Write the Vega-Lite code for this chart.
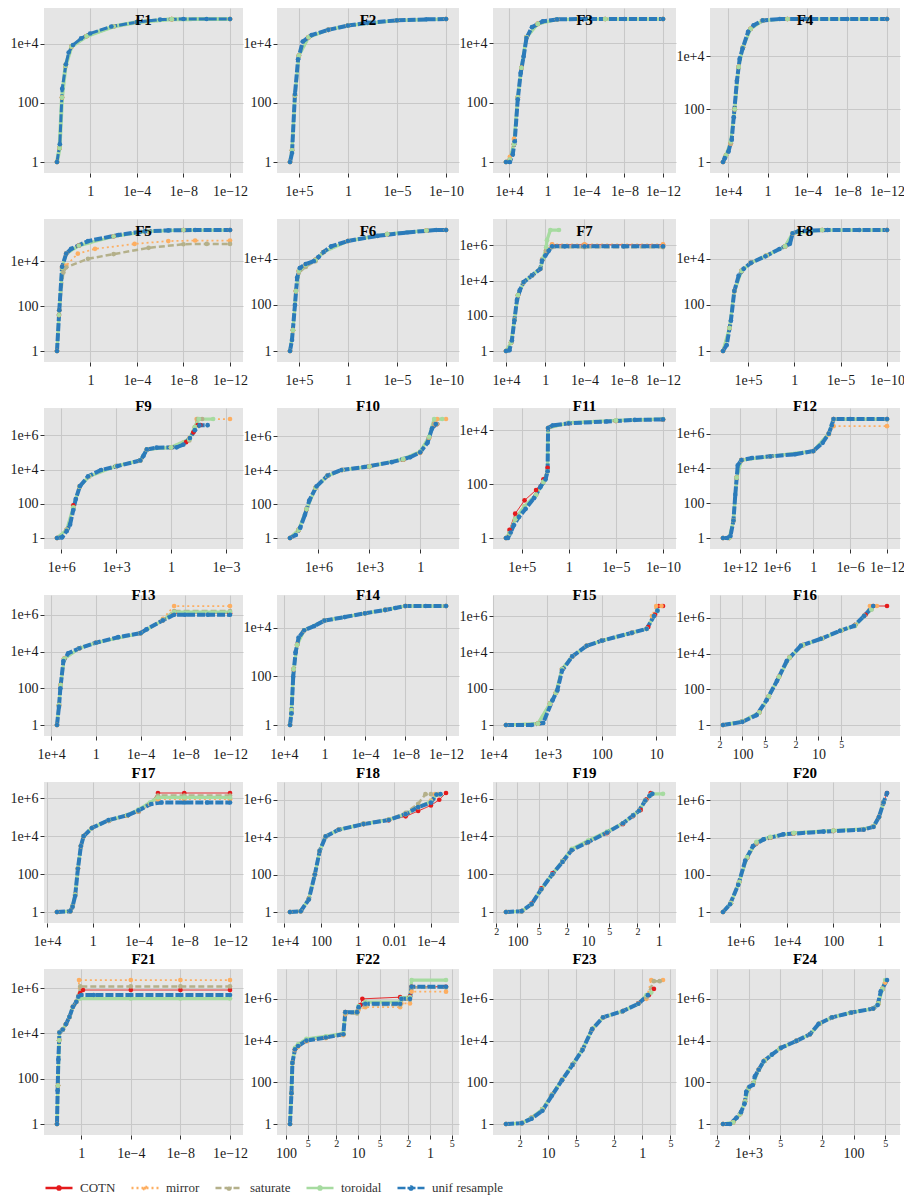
{
"$schema":"https://vega.github.io/schema/vega-lite/v6.json",
"background":"white",
"padding":{"left":9,"top":8,"right":0,"bottom":2},
"columns":4,
"spacing":{"row":46,"column":34},
"bounds":"flush",
"align":"each",
"resolve":{"scale":{"x":"independent","y":"independent"}},
"data":{"values":[
{"p":"F1","a":"C","x":700,"y":1},{"p":"F1","a":"C","x":420,"y":3},{"p":"F1","a":"C","x":260,"y":150},{"p":"F1","a":"C","x":130,"y":1800},{"p":"F1","a":"C","x":40,"y":8000},{"p":"F1","a":"C","x":2,"y":18000},{"p":"F1","a":"C","x":0.01,"y":38000},{"p":"F1","a":"C","x":1e-4,"y":53000},{"p":"F1","a":"C","x":1e-7,"y":67000},{"p":"F1","a":"C","x":1e-12,"y":68000},
{"p":"F1","a":"M","x":700,"y":1},{"p":"F1","a":"M","x":420,"y":3},{"p":"F1","a":"M","x":260,"y":150},{"p":"F1","a":"M","x":130,"y":1800},{"p":"F1","a":"M","x":40,"y":8000},{"p":"F1","a":"M","x":2,"y":18000},{"p":"F1","a":"M","x":0.01,"y":38000},{"p":"F1","a":"M","x":1e-4,"y":53000},{"p":"F1","a":"M","x":1e-7,"y":67000},{"p":"F1","a":"M","x":1e-12,"y":68000},
{"p":"F1","a":"S","x":700,"y":1},{"p":"F1","a":"S","x":420,"y":3},{"p":"F1","a":"S","x":260,"y":150},{"p":"F1","a":"S","x":130,"y":1800},{"p":"F1","a":"S","x":40,"y":8000},{"p":"F1","a":"S","x":2,"y":18000},{"p":"F1","a":"S","x":0.01,"y":38000},{"p":"F1","a":"S","x":1e-4,"y":53000},{"p":"F1","a":"S","x":1e-7,"y":67000},{"p":"F1","a":"S","x":1e-12,"y":68000},
{"p":"F1","a":"T","x":700,"y":1},{"p":"F1","a":"T","x":420,"y":3},{"p":"F1","a":"T","x":260,"y":150},{"p":"F1","a":"T","x":130,"y":1800},{"p":"F1","a":"T","x":40,"y":8000},{"p":"F1","a":"T","x":2,"y":18000},{"p":"F1","a":"T","x":0.01,"y":38000},{"p":"F1","a":"T","x":1e-4,"y":53000},{"p":"F1","a":"T","x":1e-7,"y":67000},{"p":"F1","a":"T","x":1e-12,"y":68000},
{"p":"F1","a":"U","x":700,"y":1},{"p":"F1","a":"U","x":400,"y":4},{"p":"F1","a":"U","x":250,"y":300},{"p":"F1","a":"U","x":120,"y":2000},{"p":"F1","a":"U","x":70,"y":5000},{"p":"F1","a":"U","x":30,"y":9000},{"p":"F1","a":"U","x":6,"y":15000},{"p":"F1","a":"U","x":1,"y":22000},{"p":"F1","a":"U","x":0.015,"y":38000},{"p":"F1","a":"U","x":1e-4,"y":53000},{"p":"F1","a":"U","x":1e-6,"y":65000},{"p":"F1","a":"U","x":1e-8,"y":68000},{"p":"F1","a":"U","x":1e-10,"y":68000},{"p":"F1","a":"U","x":1e-12,"y":68000},

{"p":"F2","a":"C","x":8e5,"y":1},{"p":"F2","a":"C","x":5e5,"y":2.5},{"p":"F2","a":"C","x":2.5e5,"y":180},{"p":"F2","a":"C","x":1e5,"y":4000},{"p":"F2","a":"C","x":1e4,"y":17000},{"p":"F2","a":"C","x":100,"y":30000},{"p":"F2","a":"C","x":1,"y":42000},{"p":"F2","a":"C","x":1e-5,"y":63000},{"p":"F2","a":"C","x":1e-10,"y":70000},
{"p":"F2","a":"M","x":8e5,"y":1},{"p":"F2","a":"M","x":5e5,"y":2.5},{"p":"F2","a":"M","x":2.5e5,"y":180},{"p":"F2","a":"M","x":1e5,"y":4000},{"p":"F2","a":"M","x":1e4,"y":17000},{"p":"F2","a":"M","x":100,"y":30000},{"p":"F2","a":"M","x":1,"y":42000},{"p":"F2","a":"M","x":1e-5,"y":63000},{"p":"F2","a":"M","x":1e-10,"y":70000},
{"p":"F2","a":"S","x":8e5,"y":1},{"p":"F2","a":"S","x":5e5,"y":2.5},{"p":"F2","a":"S","x":2.5e5,"y":180},{"p":"F2","a":"S","x":1e5,"y":4000},{"p":"F2","a":"S","x":1e4,"y":17000},{"p":"F2","a":"S","x":100,"y":30000},{"p":"F2","a":"S","x":1,"y":42000},{"p":"F2","a":"S","x":1e-5,"y":63000},{"p":"F2","a":"S","x":1e-10,"y":70000},
{"p":"F2","a":"T","x":8e5,"y":1},{"p":"F2","a":"T","x":5e5,"y":2.5},{"p":"F2","a":"T","x":2.5e5,"y":180},{"p":"F2","a":"T","x":1e5,"y":4000},{"p":"F2","a":"T","x":1e4,"y":17000},{"p":"F2","a":"T","x":100,"y":30000},{"p":"F2","a":"T","x":1,"y":42000},{"p":"F2","a":"T","x":1e-5,"y":63000},{"p":"F2","a":"T","x":1e-10,"y":70000},
{"p":"F2","a":"U","x":8e5,"y":1},{"p":"F2","a":"U","x":5e5,"y":2},{"p":"F2","a":"U","x":2.5e5,"y":200},{"p":"F2","a":"U","x":1.2e5,"y":3000},{"p":"F2","a":"U","x":4e4,"y":12000},{"p":"F2","a":"U","x":5e3,"y":20000},{"p":"F2","a":"U","x":100,"y":30000},{"p":"F2","a":"U","x":1,"y":42000},{"p":"F2","a":"U","x":0.01,"y":52000},{"p":"F2","a":"U","x":1e-5,"y":63000},{"p":"F2","a":"U","x":1e-8,"y":68000},{"p":"F2","a":"U","x":1e-10,"y":70000},

{"p":"F3","a":"C","x":2e4,"y":1},{"p":"F3","a":"C","x":8e3,"y":1.2},{"p":"F3","a":"C","x":3e3,"y":4},{"p":"F3","a":"C","x":1.2e3,"y":150},{"p":"F3","a":"C","x":500,"y":1500},{"p":"F3","a":"C","x":150,"y":16000},{"p":"F3","a":"C","x":10,"y":45000},{"p":"F3","a":"C","x":0.1,"y":64000},{"p":"F3","a":"C","x":1e-6,"y":66000},{"p":"F3","a":"C","x":1e-12,"y":66000},
{"p":"F3","a":"M","x":2e4,"y":1},{"p":"F3","a":"M","x":8e3,"y":1.5},{"p":"F3","a":"M","x":3e3,"y":6},{"p":"F3","a":"M","x":1.2e3,"y":150},{"p":"F3","a":"M","x":500,"y":1500},{"p":"F3","a":"M","x":150,"y":16000},{"p":"F3","a":"M","x":10,"y":45000},{"p":"F3","a":"M","x":0.1,"y":64000},{"p":"F3","a":"M","x":1e-6,"y":66000},{"p":"F3","a":"M","x":1e-12,"y":66000},
{"p":"F3","a":"S","x":2e4,"y":1},{"p":"F3","a":"S","x":8e3,"y":1.2},{"p":"F3","a":"S","x":3e3,"y":4},{"p":"F3","a":"S","x":1.2e3,"y":150},{"p":"F3","a":"S","x":500,"y":1500},{"p":"F3","a":"S","x":150,"y":16000},{"p":"F3","a":"S","x":10,"y":45000},{"p":"F3","a":"S","x":0.1,"y":64000},{"p":"F3","a":"S","x":1e-6,"y":66000},{"p":"F3","a":"S","x":1e-12,"y":66000},
{"p":"F3","a":"T","x":2e4,"y":1},{"p":"F3","a":"T","x":8e3,"y":1.2},{"p":"F3","a":"T","x":3e3,"y":4},{"p":"F3","a":"T","x":1.2e3,"y":150},{"p":"F3","a":"T","x":500,"y":1500},{"p":"F3","a":"T","x":150,"y":16000},{"p":"F3","a":"T","x":10,"y":45000},{"p":"F3","a":"T","x":0.1,"y":64000},{"p":"F3","a":"T","x":1e-6,"y":66000},{"p":"F3","a":"T","x":1e-12,"y":66000},
{"p":"F3","a":"U","x":2e4,"y":1},{"p":"F3","a":"U","x":8e3,"y":1},{"p":"F3","a":"U","x":4e3,"y":1.8},{"p":"F3","a":"U","x":2.5e3,"y":5},{"p":"F3","a":"U","x":1.2e3,"y":130},{"p":"F3","a":"U","x":600,"y":1000},{"p":"F3","a":"U","x":300,"y":3500},{"p":"F3","a":"U","x":150,"y":15000},{"p":"F3","a":"U","x":40,"y":35000},{"p":"F3","a":"U","x":3,"y":55000},{"p":"F3","a":"U","x":0.1,"y":64000},{"p":"F3","a":"U","x":1e-4,"y":66000},{"p":"F3","a":"U","x":1e-8,"y":66000},{"p":"F3","a":"U","x":1e-12,"y":66000},

{"p":"F4","a":"C","x":3e4,"y":1},{"p":"F4","a":"C","x":1.5e4,"y":1.8},{"p":"F4","a":"C","x":5e3,"y":5},{"p":"F4","a":"C","x":2e3,"y":100},{"p":"F4","a":"C","x":800,"y":4000},{"p":"F4","a":"C","x":300,"y":22000},{"p":"F4","a":"C","x":50,"y":110000},{"p":"F4","a":"C","x":3,"y":230000},{"p":"F4","a":"C","x":0.01,"y":260000},{"p":"F4","a":"C","x":1e-12,"y":260000},
{"p":"F4","a":"M","x":3e4,"y":1},{"p":"F4","a":"M","x":1.5e4,"y":1.8},{"p":"F4","a":"M","x":5e3,"y":5},{"p":"F4","a":"M","x":2e3,"y":100},{"p":"F4","a":"M","x":800,"y":4000},{"p":"F4","a":"M","x":300,"y":22000},{"p":"F4","a":"M","x":50,"y":110000},{"p":"F4","a":"M","x":3,"y":230000},{"p":"F4","a":"M","x":0.01,"y":260000},{"p":"F4","a":"M","x":1e-12,"y":260000},
{"p":"F4","a":"S","x":3e4,"y":1},{"p":"F4","a":"S","x":1.5e4,"y":1.8},{"p":"F4","a":"S","x":5e3,"y":5},{"p":"F4","a":"S","x":2e3,"y":100},{"p":"F4","a":"S","x":800,"y":4000},{"p":"F4","a":"S","x":300,"y":22000},{"p":"F4","a":"S","x":50,"y":110000},{"p":"F4","a":"S","x":3,"y":230000},{"p":"F4","a":"S","x":0.01,"y":260000},{"p":"F4","a":"S","x":1e-12,"y":260000},
{"p":"F4","a":"T","x":3e4,"y":1},{"p":"F4","a":"T","x":1.5e4,"y":1.8},{"p":"F4","a":"T","x":5e3,"y":6},{"p":"F4","a":"T","x":2e3,"y":100},{"p":"F4","a":"T","x":800,"y":4000},{"p":"F4","a":"T","x":300,"y":22000},{"p":"F4","a":"T","x":50,"y":110000},{"p":"F4","a":"T","x":3,"y":230000},{"p":"F4","a":"T","x":0.01,"y":260000},{"p":"F4","a":"T","x":1e-12,"y":260000},
{"p":"F4","a":"U","x":3e4,"y":1},{"p":"F4","a":"U","x":2e4,"y":1.4},{"p":"F4","a":"U","x":8.5e3,"y":2.5},{"p":"F4","a":"U","x":4e3,"y":7},{"p":"F4","a":"U","x":2.5e3,"y":50},{"p":"F4","a":"U","x":1.2e3,"y":1200},{"p":"F4","a":"U","x":630,"y":8000},{"p":"F4","a":"U","x":320,"y":20000},{"p":"F4","a":"U","x":90,"y":85000},{"p":"F4","a":"U","x":25,"y":150000},{"p":"F4","a":"U","x":3,"y":230000},{"p":"F4","a":"U","x":0.06,"y":260000},{"p":"F4","a":"U","x":1e-4,"y":260000},{"p":"F4","a":"U","x":1e-8,"y":260000},{"p":"F4","a":"U","x":1e-12,"y":260000},

{"p":"F5","a":"C","x":740,"y":1},{"p":"F5","a":"C","x":500,"y":40},{"p":"F5","a":"C","x":270,"y":5000},{"p":"F5","a":"C","x":120,"y":22000},{"p":"F5","a":"C","x":10,"y":50000},{"p":"F5","a":"C","x":0.01,"y":130000},{"p":"F5","a":"C","x":1e-5,"y":220000},{"p":"F5","a":"C","x":1e-8,"y":250000},{"p":"F5","a":"C","x":1e-12,"y":250000},
{"p":"F5","a":"M","x":740,"y":1},{"p":"F5","a":"M","x":470,"y":66},{"p":"F5","a":"M","x":270,"y":5700},{"p":"F5","a":"M","x":120,"y":6500},{"p":"F5","a":"M","x":12,"y":22000},{"p":"F5","a":"M","x":0.4,"y":36000},{"p":"F5","a":"M","x":1.6e-4,"y":60000},{"p":"F5","a":"M","x":2e-7,"y":80000},{"p":"F5","a":"M","x":1e-9,"y":85000},{"p":"F5","a":"M","x":1e-12,"y":85000},
{"p":"F5","a":"S","x":740,"y":1},{"p":"F5","a":"S","x":470,"y":66},{"p":"F5","a":"S","x":210,"y":3200},{"p":"F5","a":"S","x":120,"y":5400},{"p":"F5","a":"S","x":1.6,"y":13000},{"p":"F5","a":"S","x":0.01,"y":21000},{"p":"F5","a":"S","x":1e-5,"y":40000},{"p":"F5","a":"S","x":1e-8,"y":58000},{"p":"F5","a":"S","x":1e-10,"y":60000},{"p":"F5","a":"S","x":1e-12,"y":60000},
{"p":"F5","a":"T","x":740,"y":1},{"p":"F5","a":"T","x":500,"y":40},{"p":"F5","a":"T","x":270,"y":5000},{"p":"F5","a":"T","x":120,"y":22000},{"p":"F5","a":"T","x":10,"y":50000},{"p":"F5","a":"T","x":0.01,"y":130000},{"p":"F5","a":"T","x":1e-5,"y":220000},{"p":"F5","a":"T","x":1e-8,"y":250000},{"p":"F5","a":"T","x":1e-12,"y":250000},
{"p":"F5","a":"U","x":740,"y":1},{"p":"F5","a":"U","x":470,"y":66},{"p":"F5","a":"U","x":270,"y":5700},{"p":"F5","a":"U","x":120,"y":22000},{"p":"F5","a":"U","x":45,"y":36000},{"p":"F5","a":"U","x":1.6,"y":80000},{"p":"F5","a":"U","x":0.004,"y":150000},{"p":"F5","a":"U","x":2e-5,"y":220000},{"p":"F5","a":"U","x":2e-7,"y":240000},{"p":"F5","a":"U","x":1e-9,"y":250000},{"p":"F5","a":"U","x":1e-12,"y":250000},

{"p":"F6","a":"C","x":8e5,"y":1},{"p":"F6","a":"C","x":4e5,"y":8},{"p":"F6","a":"C","x":2e5,"y":400},{"p":"F6","a":"C","x":1e5,"y":3000},{"p":"F6","a":"C","x":2e4,"y":5500},{"p":"F6","a":"C","x":2e3,"y":9000},{"p":"F6","a":"C","x":300,"y":20000},{"p":"F6","a":"C","x":1,"y":60000},{"p":"F6","a":"C","x":1e-4,"y":120000},{"p":"F6","a":"C","x":1e-8,"y":170000},{"p":"F6","a":"C","x":1e-10,"y":180000},
{"p":"F6","a":"M","x":8e5,"y":1},{"p":"F6","a":"M","x":4e5,"y":8},{"p":"F6","a":"M","x":2e5,"y":400},{"p":"F6","a":"M","x":1e5,"y":3000},{"p":"F6","a":"M","x":2e4,"y":5500},{"p":"F6","a":"M","x":2e3,"y":9000},{"p":"F6","a":"M","x":300,"y":20000},{"p":"F6","a":"M","x":1,"y":60000},{"p":"F6","a":"M","x":1e-4,"y":120000},{"p":"F6","a":"M","x":1e-8,"y":170000},{"p":"F6","a":"M","x":1e-10,"y":180000},
{"p":"F6","a":"S","x":8e5,"y":1},{"p":"F6","a":"S","x":4e5,"y":8},{"p":"F6","a":"S","x":2e5,"y":400},{"p":"F6","a":"S","x":1e5,"y":2500},{"p":"F6","a":"S","x":2e4,"y":4500},{"p":"F6","a":"S","x":2e3,"y":8000},{"p":"F6","a":"S","x":300,"y":20000},{"p":"F6","a":"S","x":1,"y":60000},{"p":"F6","a":"S","x":1e-4,"y":120000},{"p":"F6","a":"S","x":1e-8,"y":170000},{"p":"F6","a":"S","x":1e-10,"y":180000},
{"p":"F6","a":"T","x":8e5,"y":1},{"p":"F6","a":"T","x":4e5,"y":8},{"p":"F6","a":"T","x":2e5,"y":400},{"p":"F6","a":"T","x":1e5,"y":3000},{"p":"F6","a":"T","x":2e4,"y":5500},{"p":"F6","a":"T","x":2e3,"y":9000},{"p":"F6","a":"T","x":300,"y":20000},{"p":"F6","a":"T","x":1,"y":60000},{"p":"F6","a":"T","x":1e-4,"y":120000},{"p":"F6","a":"T","x":1e-8,"y":170000},{"p":"F6","a":"T","x":1e-10,"y":180000},
{"p":"F6","a":"U","x":8e5,"y":1},{"p":"F6","a":"U","x":5e5,"y":3},{"p":"F6","a":"U","x":2.5e5,"y":100},{"p":"F6","a":"U","x":1.5e5,"y":1500},{"p":"F6","a":"U","x":8e4,"y":4000},{"p":"F6","a":"U","x":2e4,"y":6000},{"p":"F6","a":"U","x":3e3,"y":8000},{"p":"F6","a":"U","x":1e3,"y":12000},{"p":"F6","a":"U","x":300,"y":20000},{"p":"F6","a":"U","x":50,"y":35000},{"p":"F6","a":"U","x":1,"y":60000},{"p":"F6","a":"U","x":1e-3,"y":100000},{"p":"F6","a":"U","x":1e-6,"y":140000},{"p":"F6","a":"U","x":1e-9,"y":180000},{"p":"F6","a":"U","x":1e-10,"y":180000},

{"p":"F7","a":"C","x":1e4,"y":1},{"p":"F7","a":"C","x":3e3,"y":3},{"p":"F7","a":"C","x":1.4e3,"y":60},{"p":"F7","a":"C","x":600,"y":1500},{"p":"F7","a":"C","x":160,"y":8000},{"p":"F7","a":"C","x":22,"y":20000},{"p":"F7","a":"C","x":3.2,"y":47000},{"p":"F7","a":"C","x":2,"y":160000},{"p":"F7","a":"C","x":0.8,"y":500000},{"p":"F7","a":"C","x":0.2,"y":1100000},{"p":"F7","a":"C","x":1e-4,"y":1100000},{"p":"F7","a":"C","x":1e-12,"y":1100000},
{"p":"F7","a":"M","x":1e4,"y":1},{"p":"F7","a":"M","x":3e3,"y":3},{"p":"F7","a":"M","x":1.4e3,"y":60},{"p":"F7","a":"M","x":600,"y":1500},{"p":"F7","a":"M","x":160,"y":8000},{"p":"F7","a":"M","x":22,"y":20000},{"p":"F7","a":"M","x":3.2,"y":47000},{"p":"F7","a":"M","x":2,"y":160000},{"p":"F7","a":"M","x":0.8,"y":500000},{"p":"F7","a":"M","x":0.2,"y":1150000},{"p":"F7","a":"M","x":1e-4,"y":1150000},{"p":"F7","a":"M","x":1e-12,"y":1150000},
{"p":"F7","a":"S","x":1e4,"y":1},{"p":"F7","a":"S","x":3e3,"y":3},{"p":"F7","a":"S","x":1.4e3,"y":60},{"p":"F7","a":"S","x":600,"y":1500},{"p":"F7","a":"S","x":160,"y":8000},{"p":"F7","a":"S","x":22,"y":20000},{"p":"F7","a":"S","x":3.2,"y":47000},{"p":"F7","a":"S","x":2,"y":160000},{"p":"F7","a":"S","x":0.8,"y":500000},{"p":"F7","a":"S","x":0.2,"y":800000},{"p":"F7","a":"S","x":1e-4,"y":800000},{"p":"F7","a":"S","x":1e-12,"y":800000},
{"p":"F7","a":"T","x":1e4,"y":1},{"p":"F7","a":"T","x":3e3,"y":3},{"p":"F7","a":"T","x":1.4e3,"y":60},{"p":"F7","a":"T","x":600,"y":1500},{"p":"F7","a":"T","x":160,"y":8000},{"p":"F7","a":"T","x":22,"y":20000},{"p":"F7","a":"T","x":3.2,"y":50000},{"p":"F7","a":"T","x":1.5,"y":200000},{"p":"F7","a":"T","x":0.8,"y":800000},{"p":"F7","a":"T","x":0.67,"y":2000000},{"p":"F7","a":"T","x":0.3,"y":7600000},{"p":"F7","a":"T","x":0.04,"y":7600000},
{"p":"F7","a":"U","x":1e4,"y":1},{"p":"F7","a":"U","x":4.5e3,"y":1.1},{"p":"F7","a":"U","x":2.5e3,"y":4},{"p":"F7","a":"U","x":1.4e3,"y":56},{"p":"F7","a":"U","x":760,"y":800},{"p":"F7","a":"U","x":400,"y":2800},{"p":"F7","a":"U","x":160,"y":8300},{"p":"F7","a":"U","x":22,"y":20000},{"p":"F7","a":"U","x":3.2,"y":47000},{"p":"F7","a":"U","x":2.1,"y":140000},{"p":"F7","a":"U","x":1,"y":260000},{"p":"F7","a":"U","x":0.45,"y":500000},{"p":"F7","a":"U","x":0.2,"y":900000},{"p":"F7","a":"U","x":0.01,"y":900000},{"p":"F7","a":"U","x":1e-4,"y":900000},{"p":"F7","a":"U","x":1e-8,"y":900000},{"p":"F7","a":"U","x":1e-12,"y":900000},

{"p":"F8","a":"C","x":5e7,"y":1},{"p":"F8","a":"C","x":1e7,"y":10},{"p":"F8","a":"C","x":3e6,"y":400},{"p":"F8","a":"C","x":5e5,"y":3000},{"p":"F8","a":"C","x":5e4,"y":6700},{"p":"F8","a":"C","x":1e3,"y":14000},{"p":"F8","a":"C","x":10,"y":35000},{"p":"F8","a":"C","x":1.5,"y":130000},{"p":"F8","a":"C","x":1e-3,"y":180000},{"p":"F8","a":"C","x":1e-10,"y":180000},
{"p":"F8","a":"M","x":5e7,"y":1},{"p":"F8","a":"M","x":1e7,"y":10},{"p":"F8","a":"M","x":3e6,"y":400},{"p":"F8","a":"M","x":5e5,"y":3000},{"p":"F8","a":"M","x":5e4,"y":6700},{"p":"F8","a":"M","x":1e3,"y":14000},{"p":"F8","a":"M","x":10,"y":35000},{"p":"F8","a":"M","x":1.5,"y":130000},{"p":"F8","a":"M","x":1e-3,"y":180000},{"p":"F8","a":"M","x":1e-10,"y":180000},
{"p":"F8","a":"S","x":5e7,"y":1},{"p":"F8","a":"S","x":1e7,"y":10},{"p":"F8","a":"S","x":3e6,"y":400},{"p":"F8","a":"S","x":5e5,"y":3000},{"p":"F8","a":"S","x":5e4,"y":6700},{"p":"F8","a":"S","x":1e3,"y":14000},{"p":"F8","a":"S","x":10,"y":35000},{"p":"F8","a":"S","x":1.5,"y":130000},{"p":"F8","a":"S","x":1e-3,"y":180000},{"p":"F8","a":"S","x":1e-10,"y":180000},
{"p":"F8","a":"T","x":5e7,"y":1},{"p":"F8","a":"T","x":1e7,"y":10},{"p":"F8","a":"T","x":3e6,"y":400},{"p":"F8","a":"T","x":5e5,"y":3000},{"p":"F8","a":"T","x":5e4,"y":6700},{"p":"F8","a":"T","x":1e3,"y":14000},{"p":"F8","a":"T","x":10,"y":35000},{"p":"F8","a":"T","x":1.5,"y":130000},{"p":"F8","a":"T","x":1e-3,"y":180000},{"p":"F8","a":"T","x":1e-10,"y":180000},
{"p":"F8","a":"U","x":5e7,"y":1},{"p":"F8","a":"U","x":2e7,"y":1.8},{"p":"F8","a":"U","x":7e6,"y":21},{"p":"F8","a":"U","x":3e6,"y":400},{"p":"F8","a":"U","x":1e6,"y":1900},{"p":"F8","a":"U","x":3e5,"y":3700},{"p":"F8","a":"U","x":5e4,"y":6700},{"p":"F8","a":"U","x":1.3e3,"y":13000},{"p":"F8","a":"U","x":40,"y":27000},{"p":"F8","a":"U","x":3,"y":45000},{"p":"F8","a":"U","x":1.5,"y":130000},{"p":"F8","a":"U","x":0.35,"y":160000},{"p":"F8","a":"U","x":2.5e-4,"y":180000},{"p":"F8","a":"U","x":1e-7,"y":180000},{"p":"F8","a":"U","x":1e-10,"y":180000},

{"p":"F9","a":"C","x":1.7e6,"y":1},{"p":"F9","a":"C","x":5e5,"y":3},{"p":"F9","a":"C","x":2.2e5,"y":80},{"p":"F9","a":"C","x":1e5,"y":1000},{"p":"F9","a":"C","x":3e4,"y":4000},{"p":"F9","a":"C","x":1e3,"y":16000},{"p":"F9","a":"C","x":48,"y":34000},{"p":"F9","a":"C","x":21,"y":150000},{"p":"F9","a":"C","x":1,"y":200000},{"p":"F9","a":"C","x":0.15,"y":400000},{"p":"F9","a":"C","x":0.06,"y":1500000},{"p":"F9","a":"C","x":0.035,"y":4000000},{"p":"F9","a":"C","x":0.025,"y":4000000},
{"p":"F9","a":"M","x":1.7e6,"y":1},{"p":"F9","a":"M","x":5e5,"y":3},{"p":"F9","a":"M","x":2.2e5,"y":60},{"p":"F9","a":"M","x":1e5,"y":1000},{"p":"F9","a":"M","x":3e4,"y":4000},{"p":"F9","a":"M","x":1e3,"y":16000},{"p":"F9","a":"M","x":48,"y":34000},{"p":"F9","a":"M","x":21,"y":150000},{"p":"F9","a":"M","x":1,"y":200000},{"p":"F9","a":"M","x":0.1,"y":700000},{"p":"F9","a":"M","x":0.05,"y":3000000},{"p":"F9","a":"M","x":0.04,"y":9000000},{"p":"F9","a":"M","x":6e-4,"y":9000000},
{"p":"F9","a":"S","x":1.7e6,"y":1},{"p":"F9","a":"S","x":5e5,"y":3},{"p":"F9","a":"S","x":2.2e5,"y":60},{"p":"F9","a":"S","x":1e5,"y":1000},{"p":"F9","a":"S","x":3e4,"y":4000},{"p":"F9","a":"S","x":1e3,"y":16000},{"p":"F9","a":"S","x":48,"y":34000},{"p":"F9","a":"S","x":21,"y":150000},{"p":"F9","a":"S","x":1,"y":190000},{"p":"F9","a":"S","x":0.1,"y":500000},{"p":"F9","a":"S","x":0.05,"y":3000000},{"p":"F9","a":"S","x":0.035,"y":9000000},{"p":"F9","a":"S","x":0.02,"y":9000000},
{"p":"F9","a":"T","x":1.7e6,"y":1},{"p":"F9","a":"T","x":5e5,"y":3},{"p":"F9","a":"T","x":2.2e5,"y":60},{"p":"F9","a":"T","x":1e5,"y":1000},{"p":"F9","a":"T","x":3e4,"y":4000},{"p":"F9","a":"T","x":1e3,"y":16000},{"p":"F9","a":"T","x":48,"y":34000},{"p":"F9","a":"T","x":21,"y":150000},{"p":"F9","a":"T","x":1,"y":200000},{"p":"F9","a":"T","x":0.1,"y":600000},{"p":"F9","a":"T","x":0.05,"y":3000000},{"p":"F9","a":"T","x":0.03,"y":9000000},{"p":"F9","a":"T","x":0.005,"y":9000000},
{"p":"F9","a":"U","x":1.7e6,"y":1},{"p":"F9","a":"U","x":9e5,"y":1.1},{"p":"F9","a":"U","x":5e5,"y":2.6},{"p":"F9","a":"U","x":3.3e5,"y":6},{"p":"F9","a":"U","x":2.2e5,"y":43},{"p":"F9","a":"U","x":1.6e5,"y":190},{"p":"F9","a":"U","x":9.5e4,"y":1070},{"p":"F9","a":"U","x":3.4e4,"y":4000},{"p":"F9","a":"U","x":6.6e3,"y":9400},{"p":"F9","a":"U","x":850,"y":16000},{"p":"F9","a":"U","x":48,"y":34000},{"p":"F9","a":"U","x":32,"y":64000},{"p":"F9","a":"U","x":21,"y":150000},{"p":"F9","a":"U","x":6.2,"y":190000},{"p":"F9","a":"U","x":0.5,"y":200000},{"p":"F9","a":"U","x":0.21,"y":290000},{"p":"F9","a":"U","x":0.093,"y":690000},{"p":"F9","a":"U","x":0.05,"y":2000000},{"p":"F9","a":"U","x":0.028,"y":3900000},{"p":"F9","a":"U","x":0.01,"y":3900000},

{"p":"F10","a":"C","x":4.8e7,"y":1},{"p":"F10","a":"C","x":1.5e7,"y":3},{"p":"F10","a":"C","x":5e6,"y":50},{"p":"F10","a":"C","x":1.5e6,"y":900},{"p":"F10","a":"C","x":3e5,"y":4500},{"p":"F10","a":"C","x":4e4,"y":10000},{"p":"F10","a":"C","x":1e3,"y":16000},{"p":"F10","a":"C","x":10,"y":40000},{"p":"F10","a":"C","x":1,"y":110000},{"p":"F10","a":"C","x":0.3,"y":800000},{"p":"F10","a":"C","x":0.15,"y":5000000},{"p":"F10","a":"C","x":0.1,"y":5000000},
{"p":"F10","a":"M","x":4.8e7,"y":1},{"p":"F10","a":"M","x":1.5e7,"y":3},{"p":"F10","a":"M","x":5e6,"y":50},{"p":"F10","a":"M","x":1.5e6,"y":900},{"p":"F10","a":"M","x":3e5,"y":4500},{"p":"F10","a":"M","x":4e4,"y":10000},{"p":"F10","a":"M","x":1e3,"y":16000},{"p":"F10","a":"M","x":10,"y":40000},{"p":"F10","a":"M","x":1,"y":100000},{"p":"F10","a":"M","x":0.3,"y":800000},{"p":"F10","a":"M","x":0.15,"y":5000000},{"p":"F10","a":"M","x":0.1,"y":10000000},{"p":"F10","a":"M","x":0.03,"y":10000000},
{"p":"F10","a":"S","x":4.8e7,"y":1},{"p":"F10","a":"S","x":1.5e7,"y":3},{"p":"F10","a":"S","x":5e6,"y":50},{"p":"F10","a":"S","x":1.5e6,"y":900},{"p":"F10","a":"S","x":3e5,"y":4500},{"p":"F10","a":"S","x":4e4,"y":10000},{"p":"F10","a":"S","x":1e3,"y":16000},{"p":"F10","a":"S","x":10,"y":40000},{"p":"F10","a":"S","x":1,"y":110000},{"p":"F10","a":"S","x":0.3,"y":800000},{"p":"F10","a":"S","x":0.15,"y":5000000},{"p":"F10","a":"S","x":0.1,"y":5000000},
{"p":"F10","a":"T","x":4.8e7,"y":1},{"p":"F10","a":"T","x":1.5e7,"y":3},{"p":"F10","a":"T","x":5e6,"y":50},{"p":"F10","a":"T","x":1.5e6,"y":900},{"p":"F10","a":"T","x":3e5,"y":4500},{"p":"F10","a":"T","x":4e4,"y":10000},{"p":"F10","a":"T","x":1e3,"y":16000},{"p":"F10","a":"T","x":10,"y":45000},{"p":"F10","a":"T","x":1,"y":120000},{"p":"F10","a":"T","x":0.3,"y":900000},{"p":"F10","a":"T","x":0.15,"y":10000000},{"p":"F10","a":"T","x":0.05,"y":10000000},
{"p":"F10","a":"U","x":4.8e7,"y":1},{"p":"F10","a":"U","x":2.2e7,"y":1.5},{"p":"F10","a":"U","x":1.2e7,"y":4},{"p":"F10","a":"U","x":6.3e6,"y":23},{"p":"F10","a":"U","x":3.5e6,"y":160},{"p":"F10","a":"U","x":1.3e6,"y":1100},{"p":"F10","a":"U","x":2.9e5,"y":4700},{"p":"F10","a":"U","x":4.5e4,"y":10000},{"p":"F10","a":"U","x":2e3,"y":15000},{"p":"F10","a":"U","x":48,"y":29000},{"p":"F10","a":"U","x":4,"y":56000},{"p":"F10","a":"U","x":1,"y":110000},{"p":"F10","a":"U","x":0.37,"y":400000},{"p":"F10","a":"U","x":0.2,"y":2800000},{"p":"F10","a":"U","x":0.12,"y":5000000},

{"p":"F11","a":"C","x":4.7e6,"y":1},{"p":"F11","a":"C","x":2e6,"y":2},{"p":"F11","a":"C","x":5e5,"y":8},{"p":"F11","a":"C","x":5e4,"y":25},{"p":"F11","a":"C","x":3e3,"y":60},{"p":"F11","a":"C","x":500,"y":150},{"p":"F11","a":"C","x":180,"y":400},{"p":"F11","a":"C","x":160,"y":12000},{"p":"F11","a":"C","x":1,"y":18000},{"p":"F11","a":"C","x":1e-5,"y":22000},{"p":"F11","a":"C","x":1e-10,"y":25000},
{"p":"F11","a":"M","x":4.7e6,"y":1},{"p":"F11","a":"M","x":2e6,"y":1.5},{"p":"F11","a":"M","x":5e5,"y":5},{"p":"F11","a":"M","x":5e4,"y":15},{"p":"F11","a":"M","x":3e3,"y":40},{"p":"F11","a":"M","x":500,"y":120},{"p":"F11","a":"M","x":180,"y":300},{"p":"F11","a":"M","x":160,"y":12000},{"p":"F11","a":"M","x":1,"y":18000},{"p":"F11","a":"M","x":1e-5,"y":22000},{"p":"F11","a":"M","x":1e-10,"y":25000},
{"p":"F11","a":"S","x":4.7e6,"y":1},{"p":"F11","a":"S","x":2e6,"y":1.5},{"p":"F11","a":"S","x":5e5,"y":5},{"p":"F11","a":"S","x":5e4,"y":15},{"p":"F11","a":"S","x":3e3,"y":40},{"p":"F11","a":"S","x":500,"y":120},{"p":"F11","a":"S","x":180,"y":300},{"p":"F11","a":"S","x":160,"y":12000},{"p":"F11","a":"S","x":1,"y":18000},{"p":"F11","a":"S","x":1e-5,"y":22000},{"p":"F11","a":"S","x":1e-10,"y":25000},
{"p":"F11","a":"T","x":4.7e6,"y":1},{"p":"F11","a":"T","x":2e6,"y":1.5},{"p":"F11","a":"T","x":5e5,"y":5},{"p":"F11","a":"T","x":5e4,"y":15},{"p":"F11","a":"T","x":3e3,"y":40},{"p":"F11","a":"T","x":500,"y":120},{"p":"F11","a":"T","x":180,"y":300},{"p":"F11","a":"T","x":160,"y":12000},{"p":"F11","a":"T","x":1,"y":19000},{"p":"F11","a":"T","x":1e-5,"y":23000},{"p":"F11","a":"T","x":1e-10,"y":26000},
{"p":"F11","a":"U","x":4.7e6,"y":1},{"p":"F11","a":"U","x":3e6,"y":1},{"p":"F11","a":"U","x":1.5e6,"y":1.6},{"p":"F11","a":"U","x":7e5,"y":3},{"p":"F11","a":"U","x":2e5,"y":6},{"p":"F11","a":"U","x":4e4,"y":12},{"p":"F11","a":"U","x":5e3,"y":30},{"p":"F11","a":"U","x":1e3,"y":80},{"p":"F11","a":"U","x":300,"y":150},{"p":"F11","a":"U","x":180,"y":300},{"p":"F11","a":"U","x":160,"y":12000},{"p":"F11","a":"U","x":50,"y":15000},{"p":"F11","a":"U","x":1,"y":18000},{"p":"F11","a":"U","x":1e-4,"y":21000},{"p":"F11","a":"U","x":1e-7,"y":24000},{"p":"F11","a":"U","x":1e-10,"y":25000},

{"p":"F12","a":"C","x":5e14,"y":1},{"p":"F12","a":"C","x":5e13,"y":1},{"p":"F12","a":"C","x":1e13,"y":10},{"p":"F12","a":"C","x":3e12,"y":3000},{"p":"F12","a":"C","x":5e11,"y":30000},{"p":"F12","a":"C","x":1e7,"y":50000},{"p":"F12","a":"C","x":1,"y":100000},{"p":"F12","a":"C","x":3e-3,"y":1000000},{"p":"F12","a":"C","x":5e-4,"y":7000000},{"p":"F12","a":"C","x":1e-12,"y":7000000},
{"p":"F12","a":"M","x":5e14,"y":1},{"p":"F12","a":"M","x":5e13,"y":1},{"p":"F12","a":"M","x":1e13,"y":10},{"p":"F12","a":"M","x":3e12,"y":3000},{"p":"F12","a":"M","x":5e11,"y":30000},{"p":"F12","a":"M","x":1e7,"y":50000},{"p":"F12","a":"M","x":1,"y":100000},{"p":"F12","a":"M","x":3e-3,"y":900000},{"p":"F12","a":"M","x":5e-4,"y":2700000},{"p":"F12","a":"M","x":1e-12,"y":2700000},
{"p":"F12","a":"S","x":5e14,"y":1},{"p":"F12","a":"S","x":5e13,"y":1},{"p":"F12","a":"S","x":1e13,"y":10},{"p":"F12","a":"S","x":3e12,"y":3000},{"p":"F12","a":"S","x":5e11,"y":30000},{"p":"F12","a":"S","x":1e7,"y":50000},{"p":"F12","a":"S","x":1,"y":100000},{"p":"F12","a":"S","x":3e-3,"y":1000000},{"p":"F12","a":"S","x":5e-4,"y":6500000},{"p":"F12","a":"S","x":1e-12,"y":6500000},
{"p":"F12","a":"T","x":5e14,"y":1},{"p":"F12","a":"T","x":5e13,"y":1},{"p":"F12","a":"T","x":1e13,"y":10},{"p":"F12","a":"T","x":3e12,"y":3000},{"p":"F12","a":"T","x":5e11,"y":30000},{"p":"F12","a":"T","x":1e7,"y":50000},{"p":"F12","a":"T","x":1,"y":100000},{"p":"F12","a":"T","x":3e-3,"y":1000000},{"p":"F12","a":"T","x":5e-4,"y":7000000},{"p":"F12","a":"T","x":1e-12,"y":7000000},
{"p":"F12","a":"U","x":5e14,"y":1},{"p":"F12","a":"U","x":1e14,"y":1},{"p":"F12","a":"U","x":3e13,"y":1.3},{"p":"F12","a":"U","x":1e13,"y":10},{"p":"F12","a":"U","x":5e12,"y":300},{"p":"F12","a":"U","x":2e12,"y":15000},{"p":"F12","a":"U","x":5e11,"y":30000},{"p":"F12","a":"U","x":1e10,"y":40000},{"p":"F12","a":"U","x":1e7,"y":50000},{"p":"F12","a":"U","x":1e3,"y":65000},{"p":"F12","a":"U","x":1,"y":100000},{"p":"F12","a":"U","x":0.03,"y":300000},{"p":"F12","a":"U","x":3e-3,"y":1000000},{"p":"F12","a":"U","x":1e-3,"y":3000000},{"p":"F12","a":"U","x":5e-4,"y":7000000},{"p":"F12","a":"U","x":1e-6,"y":7000000},{"p":"F12","a":"U","x":1e-12,"y":7000000},

{"p":"F13","a":"C","x":3e3,"y":1},{"p":"F13","a":"C","x":2e3,"y":12},{"p":"F13","a":"C","x":1.4e3,"y":150},{"p":"F13","a":"C","x":700,"y":4000},{"p":"F13","a":"C","x":30,"y":15000},{"p":"F13","a":"C","x":1,"y":30000},{"p":"F13","a":"C","x":1e-4,"y":100000},{"p":"F13","a":"C","x":1e-6,"y":500000},{"p":"F13","a":"C","x":1e-7,"y":1200000},{"p":"F13","a":"C","x":1e-12,"y":1200000},
{"p":"F13","a":"M","x":3e3,"y":1},{"p":"F13","a":"M","x":2e3,"y":12},{"p":"F13","a":"M","x":1.4e3,"y":150},{"p":"F13","a":"M","x":700,"y":4000},{"p":"F13","a":"M","x":30,"y":15000},{"p":"F13","a":"M","x":1,"y":30000},{"p":"F13","a":"M","x":1e-4,"y":100000},{"p":"F13","a":"M","x":1e-6,"y":600000},{"p":"F13","a":"M","x":1e-7,"y":3000000},{"p":"F13","a":"M","x":1e-12,"y":3000000},
{"p":"F13","a":"S","x":3e3,"y":1},{"p":"F13","a":"S","x":2e3,"y":12},{"p":"F13","a":"S","x":1.4e3,"y":150},{"p":"F13","a":"S","x":700,"y":4000},{"p":"F13","a":"S","x":30,"y":15000},{"p":"F13","a":"S","x":1,"y":30000},{"p":"F13","a":"S","x":1e-4,"y":100000},{"p":"F13","a":"S","x":1e-6,"y":550000},{"p":"F13","a":"S","x":1e-7,"y":1600000},{"p":"F13","a":"S","x":1e-12,"y":1600000},
{"p":"F13","a":"T","x":3e3,"y":1},{"p":"F13","a":"T","x":2e3,"y":12},{"p":"F13","a":"T","x":1.4e3,"y":150},{"p":"F13","a":"T","x":700,"y":4000},{"p":"F13","a":"T","x":30,"y":15000},{"p":"F13","a":"T","x":1,"y":30000},{"p":"F13","a":"T","x":1e-4,"y":100000},{"p":"F13","a":"T","x":1e-6,"y":500000},{"p":"F13","a":"T","x":1e-7,"y":1400000},{"p":"F13","a":"T","x":1e-12,"y":1400000},
{"p":"F13","a":"U","x":3e3,"y":1},{"p":"F13","a":"U","x":2e3,"y":10},{"p":"F13","a":"U","x":1.5e3,"y":100},{"p":"F13","a":"U","x":800,"y":3000},{"p":"F13","a":"U","x":300,"y":8000},{"p":"F13","a":"U","x":30,"y":15000},{"p":"F13","a":"U","x":1,"y":30000},{"p":"F13","a":"U","x":0.01,"y":60000},{"p":"F13","a":"U","x":1e-4,"y":100000},{"p":"F13","a":"U","x":3e-5,"y":160000},{"p":"F13","a":"U","x":1e-6,"y":500000},{"p":"F13","a":"U","x":1e-7,"y":1000000},{"p":"F13","a":"U","x":1e-8,"y":1000000},{"p":"F13","a":"U","x":1e-10,"y":1000000},{"p":"F13","a":"U","x":1e-12,"y":1000000},

{"p":"F14","a":"C","x":2.5e3,"y":1},{"p":"F14","a":"C","x":1.8e3,"y":4},{"p":"F14","a":"C","x":1.1e3,"y":200},{"p":"F14","a":"C","x":500,"y":2000},{"p":"F14","a":"C","x":100,"y":8000},{"p":"F14","a":"C","x":1,"y":20000},{"p":"F14","a":"C","x":1e-4,"y":40000},{"p":"F14","a":"C","x":1e-6,"y":55000},{"p":"F14","a":"C","x":1e-8,"y":80000},{"p":"F14","a":"C","x":1e-12,"y":80000},
{"p":"F14","a":"M","x":2.5e3,"y":1},{"p":"F14","a":"M","x":1.8e3,"y":4},{"p":"F14","a":"M","x":1.1e3,"y":200},{"p":"F14","a":"M","x":500,"y":2000},{"p":"F14","a":"M","x":100,"y":8000},{"p":"F14","a":"M","x":1,"y":20000},{"p":"F14","a":"M","x":1e-4,"y":40000},{"p":"F14","a":"M","x":1e-6,"y":55000},{"p":"F14","a":"M","x":1e-8,"y":80000},{"p":"F14","a":"M","x":1e-12,"y":80000},
{"p":"F14","a":"S","x":2.5e3,"y":1},{"p":"F14","a":"S","x":1.8e3,"y":4},{"p":"F14","a":"S","x":1.1e3,"y":200},{"p":"F14","a":"S","x":500,"y":2000},{"p":"F14","a":"S","x":100,"y":8000},{"p":"F14","a":"S","x":1,"y":20000},{"p":"F14","a":"S","x":1e-4,"y":40000},{"p":"F14","a":"S","x":1e-6,"y":55000},{"p":"F14","a":"S","x":1e-8,"y":80000},{"p":"F14","a":"S","x":1e-12,"y":80000},
{"p":"F14","a":"T","x":2.5e3,"y":1},{"p":"F14","a":"T","x":1.8e3,"y":4},{"p":"F14","a":"T","x":1.1e3,"y":200},{"p":"F14","a":"T","x":500,"y":2000},{"p":"F14","a":"T","x":100,"y":8000},{"p":"F14","a":"T","x":1,"y":20000},{"p":"F14","a":"T","x":1e-4,"y":40000},{"p":"F14","a":"T","x":1e-6,"y":55000},{"p":"F14","a":"T","x":1e-8,"y":80000},{"p":"F14","a":"T","x":1e-12,"y":80000},
{"p":"F14","a":"U","x":2.5e3,"y":1},{"p":"F14","a":"U","x":1.8e3,"y":3},{"p":"F14","a":"U","x":1.2e3,"y":100},{"p":"F14","a":"U","x":700,"y":1000},{"p":"F14","a":"U","x":350,"y":4000},{"p":"F14","a":"U","x":100,"y":8000},{"p":"F14","a":"U","x":10,"y":12000},{"p":"F14","a":"U","x":1,"y":20000},{"p":"F14","a":"U","x":0.01,"y":28000},{"p":"F14","a":"U","x":1e-4,"y":40000},{"p":"F14","a":"U","x":1e-6,"y":55000},{"p":"F14","a":"U","x":1e-7,"y":66000},{"p":"F14","a":"U","x":1e-8,"y":80000},{"p":"F14","a":"U","x":1e-10,"y":80000},{"p":"F14","a":"U","x":1e-12,"y":80000},

{"p":"F15","a":"C","x":5.8e3,"y":1},{"p":"F15","a":"C","x":1.5e3,"y":1.2},{"p":"F15","a":"C","x":900,"y":15},{"p":"F15","a":"C","x":700,"y":60},{"p":"F15","a":"C","x":540,"y":1200},{"p":"F15","a":"C","x":350,"y":6000},{"p":"F15","a":"C","x":190,"y":23000},{"p":"F15","a":"C","x":100,"y":44000},{"p":"F15","a":"C","x":28,"y":120000},{"p":"F15","a":"C","x":14,"y":250000},{"p":"F15","a":"C","x":10.5,"y":1200000},{"p":"F15","a":"C","x":9,"y":3600000},{"p":"F15","a":"C","x":7.5,"y":3600000},
{"p":"F15","a":"M","x":5.8e3,"y":1},{"p":"F15","a":"M","x":1.5e3,"y":1.2},{"p":"F15","a":"M","x":900,"y":15},{"p":"F15","a":"M","x":700,"y":60},{"p":"F15","a":"M","x":540,"y":1200},{"p":"F15","a":"M","x":350,"y":6000},{"p":"F15","a":"M","x":190,"y":23000},{"p":"F15","a":"M","x":100,"y":44000},{"p":"F15","a":"M","x":28,"y":120000},{"p":"F15","a":"M","x":15,"y":200000},{"p":"F15","a":"M","x":12,"y":1000000},{"p":"F15","a":"M","x":10,"y":3600000},{"p":"F15","a":"M","x":8,"y":3600000},
{"p":"F15","a":"S","x":5.8e3,"y":1},{"p":"F15","a":"S","x":1.5e3,"y":1.2},{"p":"F15","a":"S","x":900,"y":15},{"p":"F15","a":"S","x":700,"y":60},{"p":"F15","a":"S","x":540,"y":1200},{"p":"F15","a":"S","x":350,"y":6000},{"p":"F15","a":"S","x":190,"y":23000},{"p":"F15","a":"S","x":100,"y":44000},{"p":"F15","a":"S","x":28,"y":120000},{"p":"F15","a":"S","x":15,"y":200000},{"p":"F15","a":"S","x":11,"y":1000000},{"p":"F15","a":"S","x":9.5,"y":2000000},
{"p":"F15","a":"T","x":5.8e3,"y":1},{"p":"F15","a":"T","x":1.5e3,"y":1.2},{"p":"F15","a":"T","x":900,"y":15},{"p":"F15","a":"T","x":700,"y":60},{"p":"F15","a":"T","x":540,"y":1200},{"p":"F15","a":"T","x":350,"y":6000},{"p":"F15","a":"T","x":190,"y":23000},{"p":"F15","a":"T","x":100,"y":44000},{"p":"F15","a":"T","x":28,"y":120000},{"p":"F15","a":"T","x":15,"y":200000},{"p":"F15","a":"T","x":11,"y":1000000},{"p":"F15","a":"T","x":9.5,"y":2000000},
{"p":"F15","a":"U","x":5.8e3,"y":1},{"p":"F15","a":"U","x":2e3,"y":1},{"p":"F15","a":"U","x":1.2e3,"y":1.3},{"p":"F15","a":"U","x":810,"y":23},{"p":"F15","a":"U","x":660,"y":80},{"p":"F15","a":"U","x":540,"y":1000},{"p":"F15","a":"U","x":350,"y":6000},{"p":"F15","a":"U","x":190,"y":23000},{"p":"F15","a":"U","x":100,"y":44000},{"p":"F15","a":"U","x":28,"y":120000},{"p":"F15","a":"U","x":15,"y":200000},{"p":"F15","a":"U","x":11,"y":1000000},{"p":"F15","a":"U","x":9.5,"y":2000000},

{"p":"F16","a":"C","x":180,"y":1},{"p":"F16","a":"C","x":100,"y":1.6},{"p":"F16","a":"C","x":60,"y":5},{"p":"F16","a":"C","x":45,"y":40},{"p":"F16","a":"C","x":33,"y":500},{"p":"F16","a":"C","x":24,"y":6000},{"p":"F16","a":"C","x":16,"y":30000},{"p":"F16","a":"C","x":9,"y":70000},{"p":"F16","a":"C","x":5,"y":200000},{"p":"F16","a":"C","x":3.3,"y":400000},{"p":"F16","a":"C","x":2.4,"y":1500000},{"p":"F16","a":"C","x":1.9,"y":4700000},{"p":"F16","a":"C","x":1.25,"y":4700000},
{"p":"F16","a":"M","x":180,"y":1},{"p":"F16","a":"M","x":100,"y":1.6},{"p":"F16","a":"M","x":60,"y":5},{"p":"F16","a":"M","x":45,"y":40},{"p":"F16","a":"M","x":33,"y":500},{"p":"F16","a":"M","x":24,"y":6000},{"p":"F16","a":"M","x":16,"y":30000},{"p":"F16","a":"M","x":9,"y":70000},{"p":"F16","a":"M","x":5,"y":200000},{"p":"F16","a":"M","x":3.3,"y":400000},{"p":"F16","a":"M","x":2.5,"y":1300000},{"p":"F16","a":"M","x":2.1,"y":4700000},{"p":"F16","a":"M","x":1.7,"y":4700000},
{"p":"F16","a":"S","x":180,"y":1},{"p":"F16","a":"S","x":100,"y":1.6},{"p":"F16","a":"S","x":60,"y":5},{"p":"F16","a":"S","x":45,"y":40},{"p":"F16","a":"S","x":33,"y":500},{"p":"F16","a":"S","x":24,"y":6000},{"p":"F16","a":"S","x":16,"y":30000},{"p":"F16","a":"S","x":9,"y":70000},{"p":"F16","a":"S","x":5,"y":200000},{"p":"F16","a":"S","x":3.3,"y":360000},{"p":"F16","a":"S","x":2.5,"y":1300000},{"p":"F16","a":"S","x":2,"y":3000000},
{"p":"F16","a":"T","x":180,"y":1},{"p":"F16","a":"T","x":100,"y":1.6},{"p":"F16","a":"T","x":60,"y":5},{"p":"F16","a":"T","x":45,"y":40},{"p":"F16","a":"T","x":33,"y":500},{"p":"F16","a":"T","x":24,"y":6000},{"p":"F16","a":"T","x":16,"y":30000},{"p":"F16","a":"T","x":9,"y":70000},{"p":"F16","a":"T","x":5,"y":200000},{"p":"F16","a":"T","x":3.3,"y":360000},{"p":"F16","a":"T","x":2.5,"y":1300000},{"p":"F16","a":"T","x":2,"y":3000000},
{"p":"F16","a":"U","x":180,"y":1},{"p":"F16","a":"U","x":100,"y":1.5},{"p":"F16","a":"U","x":65,"y":3.6},{"p":"F16","a":"U","x":48,"y":25},{"p":"F16","a":"U","x":35,"y":300},{"p":"F16","a":"U","x":26,"y":4000},{"p":"F16","a":"U","x":17,"y":28000},{"p":"F16","a":"U","x":9.3,"y":68000},{"p":"F16","a":"U","x":5.2,"y":190000},{"p":"F16","a":"U","x":3.4,"y":360000},{"p":"F16","a":"U","x":2.5,"y":1300000},{"p":"F16","a":"U","x":1.9,"y":4700000},

{"p":"F17","a":"C","x":1350,"y":1},{"p":"F17","a":"C","x":93,"y":1.1},{"p":"F17","a":"C","x":59,"y":2},{"p":"F17","a":"C","x":35,"y":8},{"p":"F17","a":"C","x":20,"y":200},{"p":"F17","a":"C","x":11,"y":3000},{"p":"F17","a":"C","x":6.3,"y":10000},{"p":"F17","a":"C","x":1.2,"y":27000},{"p":"F17","a":"C","x":0.04,"y":65000},{"p":"F17","a":"C","x":1e-3,"y":120000},{"p":"F17","a":"C","x":1e-4,"y":200000},{"p":"F17","a":"C","x":1e-5,"y":500000},{"p":"F17","a":"C","x":2e-6,"y":1900000},{"p":"F17","a":"C","x":1e-8,"y":1900000},{"p":"F17","a":"C","x":1e-12,"y":1900000},
{"p":"F17","a":"M","x":1350,"y":1},{"p":"F17","a":"M","x":93,"y":1.1},{"p":"F17","a":"M","x":59,"y":2},{"p":"F17","a":"M","x":35,"y":8},{"p":"F17","a":"M","x":20,"y":200},{"p":"F17","a":"M","x":11,"y":3000},{"p":"F17","a":"M","x":6.3,"y":10000},{"p":"F17","a":"M","x":1.2,"y":27000},{"p":"F17","a":"M","x":0.04,"y":65000},{"p":"F17","a":"M","x":1e-3,"y":120000},{"p":"F17","a":"M","x":1e-4,"y":200000},{"p":"F17","a":"M","x":1e-5,"y":500000},{"p":"F17","a":"M","x":2e-6,"y":900000},{"p":"F17","a":"M","x":1e-8,"y":900000},{"p":"F17","a":"M","x":1e-12,"y":900000},
{"p":"F17","a":"S","x":1350,"y":1},{"p":"F17","a":"S","x":93,"y":1.1},{"p":"F17","a":"S","x":59,"y":2},{"p":"F17","a":"S","x":35,"y":8},{"p":"F17","a":"S","x":20,"y":200},{"p":"F17","a":"S","x":11,"y":3000},{"p":"F17","a":"S","x":6.3,"y":10000},{"p":"F17","a":"S","x":1.2,"y":27000},{"p":"F17","a":"S","x":0.04,"y":65000},{"p":"F17","a":"S","x":1e-3,"y":120000},{"p":"F17","a":"S","x":1e-4,"y":200000},{"p":"F17","a":"S","x":1e-5,"y":500000},{"p":"F17","a":"S","x":2e-6,"y":1400000},{"p":"F17","a":"S","x":1e-8,"y":1400000},{"p":"F17","a":"S","x":1e-12,"y":1400000},
{"p":"F17","a":"T","x":1350,"y":1},{"p":"F17","a":"T","x":93,"y":1.1},{"p":"F17","a":"T","x":59,"y":2},{"p":"F17","a":"T","x":35,"y":8},{"p":"F17","a":"T","x":20,"y":200},{"p":"F17","a":"T","x":11,"y":3000},{"p":"F17","a":"T","x":6.3,"y":10000},{"p":"F17","a":"T","x":1.2,"y":27000},{"p":"F17","a":"T","x":0.04,"y":70000},{"p":"F17","a":"T","x":1e-3,"y":130000},{"p":"F17","a":"T","x":1e-4,"y":250000},{"p":"F17","a":"T","x":1e-5,"y":600000},{"p":"F17","a":"T","x":2e-6,"y":1100000},{"p":"F17","a":"T","x":1e-8,"y":1100000},{"p":"F17","a":"T","x":1e-12,"y":1100000},
{"p":"F17","a":"U","x":1350,"y":1},{"p":"F17","a":"U","x":93,"y":1.1},{"p":"F17","a":"U","x":59,"y":1.9},{"p":"F17","a":"U","x":35,"y":7},{"p":"F17","a":"U","x":20,"y":190},{"p":"F17","a":"U","x":11,"y":3000},{"p":"F17","a":"U","x":6.3,"y":10000},{"p":"F17","a":"U","x":1.2,"y":27000},{"p":"F17","a":"U","x":0.043,"y":70000},{"p":"F17","a":"U","x":8e-4,"y":130000},{"p":"F17","a":"U","x":1e-4,"y":230000},{"p":"F17","a":"U","x":8e-6,"y":500000},{"p":"F17","a":"U","x":1e-6,"y":600000},{"p":"F17","a":"U","x":1e-8,"y":600000},{"p":"F17","a":"U","x":1e-10,"y":600000},{"p":"F17","a":"U","x":1e-12,"y":600000},

{"p":"F18","a":"C","x":5e3,"y":1},{"p":"F18","a":"C","x":1.3e3,"y":1.1},{"p":"F18","a":"C","x":470,"y":5},{"p":"F18","a":"C","x":220,"y":100},{"p":"F18","a":"C","x":120,"y":1800},{"p":"F18","a":"C","x":56,"y":11000},{"p":"F18","a":"C","x":11,"y":25000},{"p":"F18","a":"C","x":0.48,"y":50000},{"p":"F18","a":"C","x":0.02,"y":80000},{"p":"F18","a":"C","x":2.4e-3,"y":130000},{"p":"F18","a":"C","x":5e-4,"y":250000},{"p":"F18","a":"C","x":1e-4,"y":500000},{"p":"F18","a":"C","x":3.5e-5,"y":1000000},{"p":"F18","a":"C","x":1.5e-5,"y":2300000},
{"p":"F18","a":"M","x":5e3,"y":1},{"p":"F18","a":"M","x":1.3e3,"y":1.1},{"p":"F18","a":"M","x":470,"y":5},{"p":"F18","a":"M","x":220,"y":100},{"p":"F18","a":"M","x":120,"y":1800},{"p":"F18","a":"M","x":56,"y":11000},{"p":"F18","a":"M","x":11,"y":25000},{"p":"F18","a":"M","x":0.48,"y":50000},{"p":"F18","a":"M","x":0.02,"y":85000},{"p":"F18","a":"M","x":2.4e-3,"y":170000},{"p":"F18","a":"M","x":5e-4,"y":400000},{"p":"F18","a":"M","x":1e-4,"y":900000},{"p":"F18","a":"M","x":6e-5,"y":2000000},{"p":"F18","a":"M","x":4e-5,"y":2000000},
{"p":"F18","a":"S","x":5e3,"y":1},{"p":"F18","a":"S","x":1.3e3,"y":1.1},{"p":"F18","a":"S","x":470,"y":5},{"p":"F18","a":"S","x":220,"y":100},{"p":"F18","a":"S","x":120,"y":1800},{"p":"F18","a":"S","x":56,"y":11000},{"p":"F18","a":"S","x":11,"y":25000},{"p":"F18","a":"S","x":0.48,"y":55000},{"p":"F18","a":"S","x":0.02,"y":90000},{"p":"F18","a":"S","x":2.4e-3,"y":200000},{"p":"F18","a":"S","x":5e-4,"y":600000},{"p":"F18","a":"S","x":2e-4,"y":2000000},{"p":"F18","a":"S","x":1e-4,"y":2000000},
{"p":"F18","a":"T","x":5e3,"y":1},{"p":"F18","a":"T","x":1.3e3,"y":1.1},{"p":"F18","a":"T","x":470,"y":5},{"p":"F18","a":"T","x":220,"y":100},{"p":"F18","a":"T","x":120,"y":1800},{"p":"F18","a":"T","x":56,"y":11000},{"p":"F18","a":"T","x":11,"y":25000},{"p":"F18","a":"T","x":0.48,"y":50000},{"p":"F18","a":"T","x":0.02,"y":85000},{"p":"F18","a":"T","x":2.4e-3,"y":170000},{"p":"F18","a":"T","x":5e-4,"y":400000},{"p":"F18","a":"T","x":1e-4,"y":800000},{"p":"F18","a":"T","x":5e-5,"y":1900000},{"p":"F18","a":"T","x":3e-5,"y":1900000},
{"p":"F18","a":"U","x":5e3,"y":1},{"p":"F18","a":"U","x":1.3e3,"y":1.1},{"p":"F18","a":"U","x":470,"y":4.7},{"p":"F18","a":"U","x":220,"y":100},{"p":"F18","a":"U","x":120,"y":1800},{"p":"F18","a":"U","x":56,"y":11000},{"p":"F18","a":"U","x":11,"y":25000},{"p":"F18","a":"U","x":0.48,"y":50000},{"p":"F18","a":"U","x":0.02,"y":83000},{"p":"F18","a":"U","x":2.4e-3,"y":170000},{"p":"F18","a":"U","x":5e-4,"y":400000},{"p":"F18","a":"U","x":1e-4,"y":700000},{"p":"F18","a":"U","x":5e-5,"y":1900000},{"p":"F18","a":"U","x":3e-5,"y":2000000},

{"p":"F19","a":"C","x":145,"y":1},{"p":"F19","a":"C","x":87,"y":1.1},{"p":"F19","a":"C","x":63,"y":2.8},{"p":"F19","a":"C","x":46,"y":18},{"p":"F19","a":"C","x":32,"y":110},{"p":"F19","a":"C","x":23,"y":500},{"p":"F19","a":"C","x":17,"y":2000},{"p":"F19","a":"C","x":10,"y":5000},{"p":"F19","a":"C","x":5.4,"y":15000},{"p":"F19","a":"C","x":3.2,"y":45000},{"p":"F19","a":"C","x":2.3,"y":120000},{"p":"F19","a":"C","x":1.8,"y":250000},{"p":"F19","a":"C","x":1.5,"y":900000},{"p":"F19","a":"C","x":1.3,"y":2000000},
{"p":"F19","a":"M","x":145,"y":1},{"p":"F19","a":"M","x":87,"y":1.1},{"p":"F19","a":"M","x":63,"y":2.6},{"p":"F19","a":"M","x":46,"y":16},{"p":"F19","a":"M","x":32,"y":100},{"p":"F19","a":"M","x":23,"y":450},{"p":"F19","a":"M","x":17,"y":1900},{"p":"F19","a":"M","x":10,"y":5000},{"p":"F19","a":"M","x":5.4,"y":16000},{"p":"F19","a":"M","x":3.2,"y":50000},{"p":"F19","a":"M","x":2.3,"y":130000},{"p":"F19","a":"M","x":1.9,"y":230000},{"p":"F19","a":"M","x":1.55,"y":800000},{"p":"F19","a":"M","x":1.3,"y":1600000},
{"p":"F19","a":"S","x":145,"y":1},{"p":"F19","a":"S","x":87,"y":1.1},{"p":"F19","a":"S","x":63,"y":2.6},{"p":"F19","a":"S","x":46,"y":16},{"p":"F19","a":"S","x":32,"y":100},{"p":"F19","a":"S","x":23,"y":450},{"p":"F19","a":"S","x":17,"y":1900},{"p":"F19","a":"S","x":10,"y":5000},{"p":"F19","a":"S","x":5.4,"y":16000},{"p":"F19","a":"S","x":3.2,"y":50000},{"p":"F19","a":"S","x":2.3,"y":130000},{"p":"F19","a":"S","x":1.9,"y":230000},{"p":"F19","a":"S","x":1.55,"y":800000},{"p":"F19","a":"S","x":1.3,"y":1600000},
{"p":"F19","a":"T","x":145,"y":1},{"p":"F19","a":"T","x":87,"y":1.1},{"p":"F19","a":"T","x":63,"y":2.6},{"p":"F19","a":"T","x":46,"y":16},{"p":"F19","a":"T","x":32,"y":100},{"p":"F19","a":"T","x":23,"y":500},{"p":"F19","a":"T","x":17,"y":2200},{"p":"F19","a":"T","x":10,"y":6000},{"p":"F19","a":"T","x":5.4,"y":18000},{"p":"F19","a":"T","x":3.2,"y":50000},{"p":"F19","a":"T","x":2.3,"y":130000},{"p":"F19","a":"T","x":1.9,"y":230000},{"p":"F19","a":"T","x":1.55,"y":800000},{"p":"F19","a":"T","x":1.23,"y":1800000},{"p":"F19","a":"T","x":0.87,"y":1800000},
{"p":"F19","a":"U","x":145,"y":1},{"p":"F19","a":"U","x":87,"y":1.1},{"p":"F19","a":"U","x":63,"y":2.6},{"p":"F19","a":"U","x":46,"y":16},{"p":"F19","a":"U","x":32,"y":100},{"p":"F19","a":"U","x":23,"y":450},{"p":"F19","a":"U","x":17,"y":1900},{"p":"F19","a":"U","x":10,"y":5000},{"p":"F19","a":"U","x":5.4,"y":16000},{"p":"F19","a":"U","x":3.2,"y":50000},{"p":"F19","a":"U","x":2.3,"y":130000},{"p":"F19","a":"U","x":1.9,"y":230000},{"p":"F19","a":"U","x":1.55,"y":800000},{"p":"F19","a":"U","x":1.35,"y":1400000},{"p":"F19","a":"U","x":1.23,"y":1800000},

{"p":"F20","a":"C","x":5.4e6,"y":1},{"p":"F20","a":"C","x":2.5e6,"y":3},{"p":"F20","a":"C","x":1.1e6,"y":40},{"p":"F20","a":"C","x":5e5,"y":800},{"p":"F20","a":"C","x":2e5,"y":5000},{"p":"F20","a":"C","x":5e4,"y":10000},{"p":"F20","a":"C","x":5e3,"y":17000},{"p":"F20","a":"C","x":100,"y":23000},{"p":"F20","a":"C","x":5,"y":28000},{"p":"F20","a":"C","x":1.9,"y":40000},{"p":"F20","a":"C","x":1.1,"y":130000},{"p":"F20","a":"C","x":0.7,"y":780000},{"p":"F20","a":"C","x":0.5,"y":2500000},
{"p":"F20","a":"M","x":5.4e6,"y":1},{"p":"F20","a":"M","x":2.5e6,"y":3},{"p":"F20","a":"M","x":1.1e6,"y":40},{"p":"F20","a":"M","x":5e5,"y":800},{"p":"F20","a":"M","x":2e5,"y":5000},{"p":"F20","a":"M","x":5e4,"y":10000},{"p":"F20","a":"M","x":5e3,"y":17000},{"p":"F20","a":"M","x":100,"y":23000},{"p":"F20","a":"M","x":5,"y":28000},{"p":"F20","a":"M","x":1.9,"y":40000},{"p":"F20","a":"M","x":1.1,"y":130000},{"p":"F20","a":"M","x":0.7,"y":780000},
{"p":"F20","a":"S","x":5.4e6,"y":1},{"p":"F20","a":"S","x":2.5e6,"y":3},{"p":"F20","a":"S","x":1.1e6,"y":40},{"p":"F20","a":"S","x":5e5,"y":800},{"p":"F20","a":"S","x":2e5,"y":5000},{"p":"F20","a":"S","x":5e4,"y":10000},{"p":"F20","a":"S","x":5e3,"y":17000},{"p":"F20","a":"S","x":100,"y":23000},{"p":"F20","a":"S","x":5,"y":28000},{"p":"F20","a":"S","x":1.9,"y":40000},{"p":"F20","a":"S","x":1.1,"y":130000},{"p":"F20","a":"S","x":0.7,"y":780000},
{"p":"F20","a":"T","x":5.4e6,"y":1},{"p":"F20","a":"T","x":2.5e6,"y":3},{"p":"F20","a":"T","x":1.1e6,"y":40},{"p":"F20","a":"T","x":5e5,"y":900},{"p":"F20","a":"T","x":2e5,"y":6000},{"p":"F20","a":"T","x":5e4,"y":11000},{"p":"F20","a":"T","x":5e3,"y":18000},{"p":"F20","a":"T","x":100,"y":24000},{"p":"F20","a":"T","x":5,"y":29000},{"p":"F20","a":"T","x":1.9,"y":40000},{"p":"F20","a":"T","x":1.1,"y":130000},{"p":"F20","a":"T","x":0.7,"y":780000},
{"p":"F20","a":"U","x":5.4e6,"y":1},{"p":"F20","a":"U","x":2.7e6,"y":2.6},{"p":"F20","a":"U","x":1.2e6,"y":29},{"p":"F20","a":"U","x":6e5,"y":580},{"p":"F20","a":"U","x":2.8e5,"y":3500},{"p":"F20","a":"U","x":1e5,"y":8000},{"p":"F20","a":"U","x":1.4e4,"y":15000},{"p":"F20","a":"U","x":260,"y":21000},{"p":"F20","a":"U","x":5,"y":27000},{"p":"F20","a":"U","x":1.9,"y":38000},{"p":"F20","a":"U","x":1.1,"y":130000},{"p":"F20","a":"U","x":0.7,"y":780000},{"p":"F20","a":"U","x":0.5,"y":2500000},

{"p":"F21","a":"C","x":90,"y":1},{"p":"F21","a":"C","x":75,"y":50},{"p":"F21","a":"C","x":60,"y":5000},{"p":"F21","a":"C","x":57,"y":11000},{"p":"F21","a":"C","x":31,"y":15000},{"p":"F21","a":"C","x":17,"y":26000},{"p":"F21","a":"C","x":9,"y":53000},{"p":"F21","a":"C","x":4.7,"y":150000},{"p":"F21","a":"C","x":2.5,"y":250000},{"p":"F21","a":"C","x":1.7,"y":420000},{"p":"F21","a":"C","x":1.2,"y":600000},{"p":"F21","a":"C","x":0.72,"y":830000},{"p":"F21","a":"C","x":1e-4,"y":830000},{"p":"F21","a":"C","x":1e-8,"y":830000},{"p":"F21","a":"C","x":1e-12,"y":830000},
{"p":"F21","a":"M","x":90,"y":1},{"p":"F21","a":"M","x":75,"y":50},{"p":"F21","a":"M","x":60,"y":5000},{"p":"F21","a":"M","x":57,"y":11000},{"p":"F21","a":"M","x":31,"y":15000},{"p":"F21","a":"M","x":17,"y":26000},{"p":"F21","a":"M","x":9,"y":53000},{"p":"F21","a":"M","x":4.7,"y":150000},{"p":"F21","a":"M","x":2.5,"y":250000},{"p":"F21","a":"M","x":1.7,"y":420000},{"p":"F21","a":"M","x":1.5,"y":2300000},{"p":"F21","a":"M","x":1e-4,"y":2300000},{"p":"F21","a":"M","x":1e-8,"y":2300000},{"p":"F21","a":"M","x":1e-12,"y":2300000},
{"p":"F21","a":"S","x":90,"y":1},{"p":"F21","a":"S","x":75,"y":50},{"p":"F21","a":"S","x":60,"y":5000},{"p":"F21","a":"S","x":57,"y":11000},{"p":"F21","a":"S","x":31,"y":15000},{"p":"F21","a":"S","x":17,"y":26000},{"p":"F21","a":"S","x":9,"y":53000},{"p":"F21","a":"S","x":4.7,"y":150000},{"p":"F21","a":"S","x":2.5,"y":250000},{"p":"F21","a":"S","x":1.7,"y":420000},{"p":"F21","a":"S","x":1.2,"y":1200000},{"p":"F21","a":"S","x":1e-4,"y":1200000},{"p":"F21","a":"S","x":1e-8,"y":1200000},{"p":"F21","a":"S","x":1e-12,"y":1200000},
{"p":"F21","a":"T","x":90,"y":1},{"p":"F21","a":"T","x":75,"y":50},{"p":"F21","a":"T","x":60,"y":5000},{"p":"F21","a":"T","x":57,"y":11000},{"p":"F21","a":"T","x":31,"y":15000},{"p":"F21","a":"T","x":17,"y":26000},{"p":"F21","a":"T","x":9,"y":53000},{"p":"F21","a":"T","x":4.7,"y":150000},{"p":"F21","a":"T","x":2.5,"y":250000},{"p":"F21","a":"T","x":1.7,"y":350000},{"p":"F21","a":"T","x":1.2,"y":350000},{"p":"F21","a":"T","x":1e-4,"y":350000},{"p":"F21","a":"T","x":1e-8,"y":350000},{"p":"F21","a":"T","x":1e-12,"y":350000},
{"p":"F21","a":"U","x":90,"y":1},{"p":"F21","a":"U","x":80,"y":30},{"p":"F21","a":"U","x":70,"y":700},{"p":"F21","a":"U","x":57,"y":11000},{"p":"F21","a":"U","x":31,"y":15000},{"p":"F21","a":"U","x":17,"y":26000},{"p":"F21","a":"U","x":9,"y":53000},{"p":"F21","a":"U","x":4.7,"y":150000},{"p":"F21","a":"U","x":2.5,"y":250000},{"p":"F21","a":"U","x":1.7,"y":420000},{"p":"F21","a":"U","x":1,"y":500000},{"p":"F21","a":"U","x":0.1,"y":500000},{"p":"F21","a":"U","x":1e-4,"y":500000},{"p":"F21","a":"U","x":1e-8,"y":500000},{"p":"F21","a":"U","x":1e-12,"y":500000},

{"p":"F22","a":"C","x":88,"y":1},{"p":"F22","a":"C","x":84,"y":30},{"p":"F22","a":"C","x":81.5,"y":850},{"p":"F22","a":"C","x":75,"y":3800},{"p":"F22","a":"C","x":68,"y":5500},{"p":"F22","a":"C","x":52,"y":10000},{"p":"F22","a":"C","x":28,"y":14000},{"p":"F22","a":"C","x":16,"y":20000},{"p":"F22","a":"C","x":15,"y":230000},{"p":"F22","a":"C","x":10.3,"y":230000},{"p":"F22","a":"C","x":9.3,"y":500000},{"p":"F22","a":"C","x":8.7,"y":1000000},{"p":"F22","a":"C","x":2.6,"y":1200000},{"p":"F22","a":"C","x":1.9,"y":1300000},{"p":"F22","a":"C","x":1.8,"y":3800000},{"p":"F22","a":"C","x":0.6,"y":3800000},
{"p":"F22","a":"M","x":88,"y":1},{"p":"F22","a":"M","x":84,"y":30},{"p":"F22","a":"M","x":81.5,"y":850},{"p":"F22","a":"M","x":75,"y":3500},{"p":"F22","a":"M","x":68,"y":5000},{"p":"F22","a":"M","x":52,"y":9000},{"p":"F22","a":"M","x":28,"y":13000},{"p":"F22","a":"M","x":16,"y":18000},{"p":"F22","a":"M","x":15,"y":180000},{"p":"F22","a":"M","x":9.8,"y":300000},{"p":"F22","a":"M","x":7.9,"y":400000},{"p":"F22","a":"M","x":2.6,"y":400000},{"p":"F22","a":"M","x":2.5,"y":600000},{"p":"F22","a":"M","x":1.9,"y":600000},{"p":"F22","a":"M","x":1.8,"y":2200000},{"p":"F22","a":"M","x":0.6,"y":2200000},
{"p":"F22","a":"S","x":88,"y":1},{"p":"F22","a":"S","x":84,"y":30},{"p":"F22","a":"S","x":81.5,"y":850},{"p":"F22","a":"S","x":75,"y":3800},{"p":"F22","a":"S","x":68,"y":5500},{"p":"F22","a":"S","x":52,"y":10000},{"p":"F22","a":"S","x":28,"y":14000},{"p":"F22","a":"S","x":16,"y":20000},{"p":"F22","a":"S","x":15,"y":200000},{"p":"F22","a":"S","x":10.3,"y":200000},{"p":"F22","a":"S","x":9.8,"y":350000},{"p":"F22","a":"S","x":7.9,"y":500000},{"p":"F22","a":"S","x":2.6,"y":500000},{"p":"F22","a":"S","x":2.5,"y":900000},{"p":"F22","a":"S","x":1.9,"y":900000},{"p":"F22","a":"S","x":1.8,"y":3500000},{"p":"F22","a":"S","x":0.6,"y":3500000},
{"p":"F22","a":"T","x":88,"y":1},{"p":"F22","a":"T","x":84,"y":30},{"p":"F22","a":"T","x":81.5,"y":850},{"p":"F22","a":"T","x":75,"y":4500},{"p":"F22","a":"T","x":68,"y":6500},{"p":"F22","a":"T","x":52,"y":12000},{"p":"F22","a":"T","x":28,"y":16000},{"p":"F22","a":"T","x":16,"y":22000},{"p":"F22","a":"T","x":15,"y":230000},{"p":"F22","a":"T","x":10.3,"y":230000},{"p":"F22","a":"T","x":9.8,"y":450000},{"p":"F22","a":"T","x":7.9,"y":700000},{"p":"F22","a":"T","x":2.6,"y":700000},{"p":"F22","a":"T","x":2.5,"y":1100000},{"p":"F22","a":"T","x":1.9,"y":1200000},{"p":"F22","a":"T","x":1.8,"y":8000000},{"p":"F22","a":"T","x":0.6,"y":8000000},
{"p":"F22","a":"U","x":88,"y":1},{"p":"F22","a":"U","x":84,"y":30},{"p":"F22","a":"U","x":81.5,"y":850},{"p":"F22","a":"U","x":75,"y":3800},{"p":"F22","a":"U","x":68,"y":5500},{"p":"F22","a":"U","x":52,"y":10000},{"p":"F22","a":"U","x":28,"y":14000},{"p":"F22","a":"U","x":16,"y":20000},{"p":"F22","a":"U","x":15,"y":230000},{"p":"F22","a":"U","x":10.3,"y":230000},{"p":"F22","a":"U","x":9.8,"y":400000},{"p":"F22","a":"U","x":7.9,"y":580000},{"p":"F22","a":"U","x":2.6,"y":580000},{"p":"F22","a":"U","x":2.5,"y":1000000},{"p":"F22","a":"U","x":1.9,"y":1000000},{"p":"F22","a":"U","x":1.8,"y":3800000},{"p":"F22","a":"U","x":0.6,"y":3800000},

{"p":"F23","a":"C","x":28,"y":1},{"p":"F23","a":"C","x":19,"y":1.1},{"p":"F23","a":"C","x":15,"y":2},{"p":"F23","a":"C","x":11.5,"y":5},{"p":"F23","a":"C","x":9.1,"y":25},{"p":"F23","a":"C","x":7.1,"y":130},{"p":"F23","a":"C","x":5.5,"y":700},{"p":"F23","a":"C","x":4.3,"y":3800},{"p":"F23","a":"C","x":3.4,"y":35000},{"p":"F23","a":"C","x":2.6,"y":130000},{"p":"F23","a":"C","x":1.6,"y":260000},{"p":"F23","a":"C","x":1.1,"y":600000},{"p":"F23","a":"C","x":0.85,"y":1500000},{"p":"F23","a":"C","x":0.75,"y":3000000},
{"p":"F23","a":"M","x":28,"y":1},{"p":"F23","a":"M","x":19,"y":1.1},{"p":"F23","a":"M","x":15,"y":2},{"p":"F23","a":"M","x":11.5,"y":5},{"p":"F23","a":"M","x":9.1,"y":25},{"p":"F23","a":"M","x":7.1,"y":130},{"p":"F23","a":"M","x":5.5,"y":700},{"p":"F23","a":"M","x":4.3,"y":3800},{"p":"F23","a":"M","x":3.4,"y":35000},{"p":"F23","a":"M","x":2.6,"y":130000},{"p":"F23","a":"M","x":1.6,"y":260000},{"p":"F23","a":"M","x":1.1,"y":580000},{"p":"F23","a":"M","x":0.9,"y":1000000},{"p":"F23","a":"M","x":0.8,"y":8000000},{"p":"F23","a":"M","x":0.6,"y":8000000},
{"p":"F23","a":"S","x":28,"y":1},{"p":"F23","a":"S","x":19,"y":1.1},{"p":"F23","a":"S","x":15,"y":2},{"p":"F23","a":"S","x":11.5,"y":5},{"p":"F23","a":"S","x":9.1,"y":25},{"p":"F23","a":"S","x":7.1,"y":130},{"p":"F23","a":"S","x":5.5,"y":700},{"p":"F23","a":"S","x":4.3,"y":3800},{"p":"F23","a":"S","x":3.4,"y":35000},{"p":"F23","a":"S","x":2.6,"y":130000},{"p":"F23","a":"S","x":1.6,"y":260000},{"p":"F23","a":"S","x":1.1,"y":580000},{"p":"F23","a":"S","x":0.9,"y":1200000},{"p":"F23","a":"S","x":0.75,"y":7000000},{"p":"F23","a":"S","x":0.65,"y":7000000},
{"p":"F23","a":"T","x":28,"y":1},{"p":"F23","a":"T","x":19,"y":1.1},{"p":"F23","a":"T","x":15,"y":2},{"p":"F23","a":"T","x":11.5,"y":5},{"p":"F23","a":"T","x":9.1,"y":25},{"p":"F23","a":"T","x":7.1,"y":130},{"p":"F23","a":"T","x":5.5,"y":700},{"p":"F23","a":"T","x":4.3,"y":3800},{"p":"F23","a":"T","x":3.4,"y":35000},{"p":"F23","a":"T","x":2.6,"y":130000},{"p":"F23","a":"T","x":1.6,"y":260000},{"p":"F23","a":"T","x":1.1,"y":580000},{"p":"F23","a":"T","x":0.9,"y":1500000},{"p":"F23","a":"T","x":0.8,"y":2000000},
{"p":"F23","a":"U","x":28,"y":1},{"p":"F23","a":"U","x":19,"y":1.1},{"p":"F23","a":"U","x":15,"y":1.8},{"p":"F23","a":"U","x":11.5,"y":4.3},{"p":"F23","a":"U","x":9.1,"y":23},{"p":"F23","a":"U","x":7.1,"y":126},{"p":"F23","a":"U","x":5.5,"y":680},{"p":"F23","a":"U","x":4.3,"y":3600},{"p":"F23","a":"U","x":3.4,"y":35000},{"p":"F23","a":"U","x":2.6,"y":130000},{"p":"F23","a":"U","x":1.6,"y":260000},{"p":"F23","a":"U","x":1.1,"y":580000},{"p":"F23","a":"U","x":0.87,"y":1500000},

{"p":"F24","a":"C","x":1750,"y":1},{"p":"F24","a":"C","x":1400,"y":1.2},{"p":"F24","a":"C","x":1200,"y":3},{"p":"F24","a":"C","x":1080,"y":12},{"p":"F24","a":"C","x":1000,"y":50},{"p":"F24","a":"C","x":900,"y":90},{"p":"F24","a":"C","x":800,"y":400},{"p":"F24","a":"C","x":700,"y":1100},{"p":"F24","a":"C","x":500,"y":4300},{"p":"F24","a":"C","x":350,"y":9600},{"p":"F24","a":"C","x":260,"y":20000},{"p":"F24","a":"C","x":210,"y":65000},{"p":"F24","a":"C","x":160,"y":130000},{"p":"F24","a":"C","x":105,"y":220000},{"p":"F24","a":"C","x":65,"y":340000},{"p":"F24","a":"C","x":58,"y":600000},{"p":"F24","a":"C","x":53,"y":3000000},
{"p":"F24","a":"M","x":1750,"y":1},{"p":"F24","a":"M","x":1400,"y":1.2},{"p":"F24","a":"M","x":1200,"y":3},{"p":"F24","a":"M","x":1080,"y":12},{"p":"F24","a":"M","x":1000,"y":50},{"p":"F24","a":"M","x":900,"y":90},{"p":"F24","a":"M","x":800,"y":400},{"p":"F24","a":"M","x":700,"y":1100},{"p":"F24","a":"M","x":500,"y":4300},{"p":"F24","a":"M","x":350,"y":9600},{"p":"F24","a":"M","x":260,"y":20000},{"p":"F24","a":"M","x":210,"y":65000},{"p":"F24","a":"M","x":160,"y":130000},{"p":"F24","a":"M","x":105,"y":220000},{"p":"F24","a":"M","x":65,"y":340000},{"p":"F24","a":"M","x":58,"y":600000},{"p":"F24","a":"M","x":53,"y":3000000},{"p":"F24","a":"M","x":50,"y":6000000},
{"p":"F24","a":"S","x":1750,"y":1},{"p":"F24","a":"S","x":1400,"y":1.2},{"p":"F24","a":"S","x":1200,"y":3},{"p":"F24","a":"S","x":1080,"y":12},{"p":"F24","a":"S","x":1000,"y":50},{"p":"F24","a":"S","x":900,"y":90},{"p":"F24","a":"S","x":800,"y":400},{"p":"F24","a":"S","x":700,"y":1100},{"p":"F24","a":"S","x":500,"y":4300},{"p":"F24","a":"S","x":350,"y":9600},{"p":"F24","a":"S","x":260,"y":20000},{"p":"F24","a":"S","x":210,"y":65000},{"p":"F24","a":"S","x":160,"y":130000},{"p":"F24","a":"S","x":105,"y":220000},{"p":"F24","a":"S","x":65,"y":340000},{"p":"F24","a":"S","x":58,"y":600000},{"p":"F24","a":"S","x":53,"y":3000000},
{"p":"F24","a":"T","x":1750,"y":1},{"p":"F24","a":"T","x":1400,"y":1.2},{"p":"F24","a":"T","x":1200,"y":3},{"p":"F24","a":"T","x":1080,"y":12},{"p":"F24","a":"T","x":1000,"y":50},{"p":"F24","a":"T","x":900,"y":90},{"p":"F24","a":"T","x":800,"y":400},{"p":"F24","a":"T","x":700,"y":1100},{"p":"F24","a":"T","x":500,"y":4300},{"p":"F24","a":"T","x":350,"y":9600},{"p":"F24","a":"T","x":260,"y":20000},{"p":"F24","a":"T","x":210,"y":65000},{"p":"F24","a":"T","x":160,"y":130000},{"p":"F24","a":"T","x":105,"y":220000},{"p":"F24","a":"T","x":65,"y":340000},{"p":"F24","a":"T","x":58,"y":600000},{"p":"F24","a":"T","x":53,"y":3000000},{"p":"F24","a":"T","x":50,"y":8000000},
{"p":"F24","a":"U","x":1750,"y":1},{"p":"F24","a":"U","x":1500,"y":1},{"p":"F24","a":"U","x":1300,"y":2},{"p":"F24","a":"U","x":1180,"y":3.7},{"p":"F24","a":"U","x":1090,"y":9.5},{"p":"F24","a":"U","x":1050,"y":35},{"p":"F24","a":"U","x":980,"y":61},{"p":"F24","a":"U","x":910,"y":74},{"p":"F24","a":"U","x":870,"y":190},{"p":"F24","a":"U","x":800,"y":400},{"p":"F24","a":"U","x":720,"y":1000},{"p":"F24","a":"U","x":600,"y":2100},{"p":"F24","a":"U","x":490,"y":4500},{"p":"F24","a":"U","x":350,"y":9600},{"p":"F24","a":"U","x":260,"y":20000},{"p":"F24","a":"U","x":215,"y":63000},{"p":"F24","a":"U","x":160,"y":130000},{"p":"F24","a":"U","x":105,"y":220000},{"p":"F24","a":"U","x":65,"y":340000},{"p":"F24","a":"U","x":59,"y":500000},{"p":"F24","a":"U","x":55,"y":2300000},{"p":"F24","a":"U","x":48,"y":8000000}
]},
"concat":[
{"title":{"text":"F1","offset":-20},"width":199,"height":165,"transform":[{"filter":"datum.p=='F1'"}],"mark":{"type":"line","point":{"filled":true,"size":22}},"encoding":{"x":{"field":"x","type":"quantitative","title":null,"scale":{"type":"log","reverse":true,"nice":false,"padding":13},"axis":{"values":[1,1e-4,1e-8,1e-12]}},"y":{"field":"y","type":"quantitative","title":null,"scale":{"type":"log","nice":false,"padding":11},"axis":{"values":[1,100,10000,1000000]}},"color":{"field":"a","type":"nominal","title":null,"scale":{"range":["#E41A1C","#FDAE61","#B4B08A","#A6DBA0","#2B7BBA"]},"legend":{"labelExpr":"datum.label=='C'?'COTN':datum.label=='M'?'mirror':datum.label=='S'?'saturate':datum.label=='T'?'toroidal':'unif resample'"}},"strokeDash":{"field":"a","type":"nominal","title":null,"scale":{"range":[[1,0],[2,3],[6,3],[1,0],[8,2]]},"legend":{"labelExpr":"datum.label=='C'?'COTN':datum.label=='M'?'mirror':datum.label=='S'?'saturate':datum.label=='T'?'toroidal':'unif resample'"}},"strokeWidth":{"field":"a","type":"nominal","scale":{"type":"ordinal","range":[2,2.5,2.5,4,3]},"legend":null}}},
{"title":{"text":"F2","offset":-20},"width":182,"height":165,"transform":[{"filter":"datum.p=='F2'"}],"mark":{"type":"line","point":{"filled":true,"size":22}},"encoding":{"x":{"field":"x","type":"quantitative","title":null,"scale":{"type":"log","reverse":true,"nice":false,"padding":13},"axis":{"values":[1e5,1,1e-5,1e-10]}},"y":{"field":"y","type":"quantitative","title":null,"scale":{"type":"log","nice":false,"padding":11},"axis":{"values":[1,100,10000,1000000]}},"color":{"field":"a","type":"nominal","title":null},"strokeDash":{"field":"a","type":"nominal","title":null},"strokeWidth":{"field":"a","type":"nominal","legend":null}}},
{"title":{"text":"F3","offset":-20},"width":183,"height":165,"transform":[{"filter":"datum.p=='F3'"}],"mark":{"type":"line","point":{"filled":true,"size":22}},"encoding":{"x":{"field":"x","type":"quantitative","title":null,"scale":{"type":"log","reverse":true,"nice":false,"padding":13},"axis":{"values":[1e4,1,1e-4,1e-8,1e-12]}},"y":{"field":"y","type":"quantitative","title":null,"scale":{"type":"log","nice":false,"padding":11},"axis":{"values":[1,100,10000,1000000]}},"color":{"field":"a","type":"nominal","title":null},"strokeDash":{"field":"a","type":"nominal","title":null},"strokeWidth":{"field":"a","type":"nominal","legend":null}}},
{"title":{"text":"F4","offset":-20},"width":190,"height":165,"transform":[{"filter":"datum.p=='F4'"}],"mark":{"type":"line","point":{"filled":true,"size":22}},"encoding":{"x":{"field":"x","type":"quantitative","title":null,"scale":{"type":"log","reverse":true,"nice":false,"padding":13},"axis":{"values":[1e4,1,1e-4,1e-8,1e-12]}},"y":{"field":"y","type":"quantitative","title":null,"scale":{"type":"log","nice":false,"padding":11},"axis":{"values":[1,100,10000,1000000]}},"color":{"field":"a","type":"nominal","title":null},"strokeDash":{"field":"a","type":"nominal","title":null},"strokeWidth":{"field":"a","type":"nominal","legend":null}}},
{"title":{"text":"F5","offset":-20},"width":199,"height":143,"transform":[{"filter":"datum.p=='F5'"}],"mark":{"type":"line","point":{"filled":true,"size":22}},"encoding":{"x":{"field":"x","type":"quantitative","title":null,"scale":{"type":"log","reverse":true,"nice":false,"padding":13},"axis":{"values":[1e4,1,1e-4,1e-8,1e-12]}},"y":{"field":"y","type":"quantitative","title":null,"scale":{"type":"log","nice":false,"padding":11},"axis":{"values":[1,100,10000,1000000]}},"color":{"field":"a","type":"nominal","title":null},"strokeDash":{"field":"a","type":"nominal","title":null},"strokeWidth":{"field":"a","type":"nominal","legend":null}}},
{"title":{"text":"F6","offset":-20},"width":182,"height":143,"transform":[{"filter":"datum.p=='F6'"}],"mark":{"type":"line","point":{"filled":true,"size":22}},"encoding":{"x":{"field":"x","type":"quantitative","title":null,"scale":{"type":"log","reverse":true,"nice":false,"padding":13},"axis":{"values":[1e5,1,1e-5,1e-10]}},"y":{"field":"y","type":"quantitative","title":null,"scale":{"type":"log","nice":false,"padding":11},"axis":{"values":[1,100,10000,1000000]}},"color":{"field":"a","type":"nominal","title":null},"strokeDash":{"field":"a","type":"nominal","title":null},"strokeWidth":{"field":"a","type":"nominal","legend":null}}},
{"title":{"text":"F7","offset":-20},"width":183,"height":143,"transform":[{"filter":"datum.p=='F7'"}],"mark":{"type":"line","point":{"filled":true,"size":22}},"encoding":{"x":{"field":"x","type":"quantitative","title":null,"scale":{"type":"log","reverse":true,"nice":false,"padding":13},"axis":{"values":[1e4,1,1e-4,1e-8,1e-12]}},"y":{"field":"y","type":"quantitative","title":null,"scale":{"type":"log","nice":false,"padding":11},"axis":{"values":[1,100,10000,1000000]}},"color":{"field":"a","type":"nominal","title":null},"strokeDash":{"field":"a","type":"nominal","title":null},"strokeWidth":{"field":"a","type":"nominal","legend":null}}},
{"title":{"text":"F8","offset":-20},"width":190,"height":143,"transform":[{"filter":"datum.p=='F8'"}],"mark":{"type":"line","point":{"filled":true,"size":22}},"encoding":{"x":{"field":"x","type":"quantitative","title":null,"scale":{"type":"log","reverse":true,"nice":false,"padding":13},"axis":{"values":[1e5,1,1e-5,1e-10]}},"y":{"field":"y","type":"quantitative","title":null,"scale":{"type":"log","nice":false,"padding":11},"axis":{"values":[1,100,10000,1000000]}},"color":{"field":"a","type":"nominal","title":null},"strokeDash":{"field":"a","type":"nominal","title":null},"strokeWidth":{"field":"a","type":"nominal","legend":null}}},
{"title":{"text":"F9","offset":-6},"width":199,"height":141,"transform":[{"filter":"datum.p=='F9'"}],"mark":{"type":"line","point":{"filled":true,"size":22}},"encoding":{"x":{"field":"x","type":"quantitative","title":null,"scale":{"type":"log","reverse":true,"nice":false,"padding":13},"axis":{"values":[1e6,1e3,1,1e-3]}},"y":{"field":"y","type":"quantitative","title":null,"scale":{"type":"log","nice":false,"padding":11},"axis":{"values":[1,100,10000,1000000]}},"color":{"field":"a","type":"nominal","title":null},"strokeDash":{"field":"a","type":"nominal","title":null},"strokeWidth":{"field":"a","type":"nominal","legend":null}}},
{"title":{"text":"F10","offset":-6},"width":182,"height":141,"transform":[{"filter":"datum.p=='F10'"}],"mark":{"type":"line","point":{"filled":true,"size":22}},"encoding":{"x":{"field":"x","type":"quantitative","title":null,"scale":{"type":"log","reverse":true,"nice":false,"padding":13},"axis":{"values":[1e6,1e3,1]}},"y":{"field":"y","type":"quantitative","title":null,"scale":{"type":"log","nice":false,"padding":11},"axis":{"values":[1,100,10000,1000000]}},"color":{"field":"a","type":"nominal","title":null},"strokeDash":{"field":"a","type":"nominal","title":null},"strokeWidth":{"field":"a","type":"nominal","legend":null}}},
{"title":{"text":"F11","offset":-6},"width":183,"height":141,"transform":[{"filter":"datum.p=='F11'"}],"mark":{"type":"line","point":{"filled":true,"size":22}},"encoding":{"x":{"field":"x","type":"quantitative","title":null,"scale":{"type":"log","reverse":true,"nice":false,"padding":13},"axis":{"values":[1e5,1,1e-5,1e-10]}},"y":{"field":"y","type":"quantitative","title":null,"scale":{"type":"log","nice":false,"padding":11},"axis":{"values":[1,100,10000,1000000]}},"color":{"field":"a","type":"nominal","title":null},"strokeDash":{"field":"a","type":"nominal","title":null},"strokeWidth":{"field":"a","type":"nominal","legend":null}}},
{"title":{"text":"F12","offset":-6},"width":190,"height":141,"transform":[{"filter":"datum.p=='F12'"}],"mark":{"type":"line","point":{"filled":true,"size":22}},"encoding":{"x":{"field":"x","type":"quantitative","title":null,"scale":{"type":"log","reverse":true,"nice":false,"padding":13},"axis":{"values":[1e12,1e6,1,1e-6,1e-12]}},"y":{"field":"y","type":"quantitative","title":null,"scale":{"type":"log","nice":false,"padding":11},"axis":{"values":[1,100,10000,1000000]}},"color":{"field":"a","type":"nominal","title":null},"strokeDash":{"field":"a","type":"nominal","title":null},"strokeWidth":{"field":"a","type":"nominal","legend":null}}},
{"title":{"text":"F13","offset":-8},"width":199,"height":141,"transform":[{"filter":"datum.p=='F13'"}],"mark":{"type":"line","point":{"filled":true,"size":22}},"encoding":{"x":{"field":"x","type":"quantitative","title":null,"scale":{"type":"log","reverse":true,"nice":false,"padding":13},"axis":{"values":[1e4,1,1e-4,1e-8,1e-12]}},"y":{"field":"y","type":"quantitative","title":null,"scale":{"type":"log","nice":false,"padding":11},"axis":{"values":[1,100,10000,1000000]}},"color":{"field":"a","type":"nominal","title":null},"strokeDash":{"field":"a","type":"nominal","title":null},"strokeWidth":{"field":"a","type":"nominal","legend":null}}},
{"title":{"text":"F14","offset":-8},"width":182,"height":141,"transform":[{"filter":"datum.p=='F14'"}],"mark":{"type":"line","point":{"filled":true,"size":22}},"encoding":{"x":{"field":"x","type":"quantitative","title":null,"scale":{"type":"log","reverse":true,"nice":false,"padding":13},"axis":{"values":[1e4,1,1e-4,1e-8,1e-12]}},"y":{"field":"y","type":"quantitative","title":null,"scale":{"type":"log","nice":false,"padding":11},"axis":{"values":[1,100,10000,1000000]}},"color":{"field":"a","type":"nominal","title":null},"strokeDash":{"field":"a","type":"nominal","title":null},"strokeWidth":{"field":"a","type":"nominal","legend":null}}},
{"title":{"text":"F15","offset":-8},"width":183,"height":141,"transform":[{"filter":"datum.p=='F15'"}],"mark":{"type":"line","point":{"filled":true,"size":22}},"encoding":{"x":{"field":"x","type":"quantitative","title":null,"scale":{"type":"log","reverse":true,"nice":false,"padding":13},"axis":{"values":[1e4,1e3,100,10]}},"y":{"field":"y","type":"quantitative","title":null,"scale":{"type":"log","nice":false,"padding":11},"axis":{"values":[1,100,10000,1000000]}},"color":{"field":"a","type":"nominal","title":null},"strokeDash":{"field":"a","type":"nominal","title":null},"strokeWidth":{"field":"a","type":"nominal","legend":null}}},
{"title":{"text":"F16","offset":-8},"width":190,"height":141,"transform":[{"filter":"datum.p=='F16'"}],"mark":{"type":"line","point":{"filled":true,"size":22}},"encoding":{"x":{"field":"x","type":"quantitative","title":null,"scale":{"type":"log","reverse":true,"nice":false,"padding":13},"axis":{"values":[200,100,50,20,10,5]}},"y":{"field":"y","type":"quantitative","title":null,"scale":{"type":"log","nice":false,"padding":11},"axis":{"values":[1,100,10000,1000000]}},"color":{"field":"a","type":"nominal","title":null},"strokeDash":{"field":"a","type":"nominal","title":null},"strokeWidth":{"field":"a","type":"nominal","legend":null}}},
{"title":{"text":"F17","offset":1},"width":199,"height":141,"transform":[{"filter":"datum.p=='F17'"}],"mark":{"type":"line","point":{"filled":true,"size":22}},"encoding":{"x":{"field":"x","type":"quantitative","title":null,"scale":{"type":"log","reverse":true,"nice":false,"padding":13},"axis":{"values":[1e4,1,1e-4,1e-8,1e-12]}},"y":{"field":"y","type":"quantitative","title":null,"scale":{"type":"log","nice":false,"padding":11},"axis":{"values":[1,100,10000,1000000]}},"color":{"field":"a","type":"nominal","title":null},"strokeDash":{"field":"a","type":"nominal","title":null},"strokeWidth":{"field":"a","type":"nominal","legend":null}}},
{"title":{"text":"F18","offset":1},"width":182,"height":141,"transform":[{"filter":"datum.p=='F18'"}],"mark":{"type":"line","point":{"filled":true,"size":22}},"encoding":{"x":{"field":"x","type":"quantitative","title":null,"scale":{"type":"log","reverse":true,"nice":false,"padding":13},"axis":{"values":[1e4,100,1,0.01,1e-4]}},"y":{"field":"y","type":"quantitative","title":null,"scale":{"type":"log","nice":false,"padding":11},"axis":{"values":[1,100,10000,1000000]}},"color":{"field":"a","type":"nominal","title":null},"strokeDash":{"field":"a","type":"nominal","title":null},"strokeWidth":{"field":"a","type":"nominal","legend":null}}},
{"title":{"text":"F19","offset":1},"width":183,"height":141,"transform":[{"filter":"datum.p=='F19'"}],"mark":{"type":"line","point":{"filled":true,"size":22}},"encoding":{"x":{"field":"x","type":"quantitative","title":null,"scale":{"type":"log","reverse":true,"nice":false,"padding":13},"axis":{"values":[200,100,50,20,10,5,2,1]}},"y":{"field":"y","type":"quantitative","title":null,"scale":{"type":"log","nice":false,"padding":11},"axis":{"values":[1,100,10000,1000000]}},"color":{"field":"a","type":"nominal","title":null},"strokeDash":{"field":"a","type":"nominal","title":null},"strokeWidth":{"field":"a","type":"nominal","legend":null}}},
{"title":{"text":"F20","offset":1},"width":190,"height":141,"transform":[{"filter":"datum.p=='F20'"}],"mark":{"type":"line","point":{"filled":true,"size":22}},"encoding":{"x":{"field":"x","type":"quantitative","title":null,"scale":{"type":"log","reverse":true,"nice":false,"padding":13},"axis":{"values":[1e6,1e4,100,1]}},"y":{"field":"y","type":"quantitative","title":null,"scale":{"type":"log","nice":false,"padding":11},"axis":{"values":[1,100,10000,1000000]}},"color":{"field":"a","type":"nominal","title":null},"strokeDash":{"field":"a","type":"nominal","title":null},"strokeWidth":{"field":"a","type":"nominal","legend":null}}},
{"title":{"text":"F21","offset":2},"width":199,"height":166,"transform":[{"filter":"datum.p=='F21'"}],"mark":{"type":"line","point":{"filled":true,"size":22}},"encoding":{"x":{"field":"x","type":"quantitative","title":null,"scale":{"type":"log","reverse":true,"nice":false,"padding":13},"axis":{"values":[1,1e-4,1e-8,1e-12]}},"y":{"field":"y","type":"quantitative","title":null,"scale":{"type":"log","nice":false,"padding":11},"axis":{"values":[1,100,10000,1000000]}},"color":{"field":"a","type":"nominal","title":null},"strokeDash":{"field":"a","type":"nominal","title":null},"strokeWidth":{"field":"a","type":"nominal","legend":null}}},
{"title":{"text":"F22","offset":2},"width":182,"height":166,"transform":[{"filter":"datum.p=='F22'"}],"mark":{"type":"line","point":{"filled":true,"size":22}},"encoding":{"x":{"field":"x","type":"quantitative","title":null,"scale":{"type":"log","reverse":true,"nice":false,"padding":13},"axis":{"values":[100,50,20,10,5,2,1,0.5]}},"y":{"field":"y","type":"quantitative","title":null,"scale":{"type":"log","nice":false,"padding":11},"axis":{"values":[1,100,10000,1000000]}},"color":{"field":"a","type":"nominal","title":null},"strokeDash":{"field":"a","type":"nominal","title":null},"strokeWidth":{"field":"a","type":"nominal","legend":null}}},
{"title":{"text":"F23","offset":2},"width":183,"height":166,"transform":[{"filter":"datum.p=='F23'"}],"mark":{"type":"line","point":{"filled":true,"size":22}},"encoding":{"x":{"field":"x","type":"quantitative","title":null,"scale":{"type":"log","reverse":true,"nice":false,"padding":13},"axis":{"values":[20,10,5,2,1,0.5]}},"y":{"field":"y","type":"quantitative","title":null,"scale":{"type":"log","nice":false,"padding":11},"axis":{"values":[1,100,10000,1000000]}},"color":{"field":"a","type":"nominal","title":null},"strokeDash":{"field":"a","type":"nominal","title":null},"strokeWidth":{"field":"a","type":"nominal","legend":null}}},
{"title":{"text":"F24","offset":2},"width":190,"height":166,"transform":[{"filter":"datum.p=='F24'"}],"mark":{"type":"line","point":{"filled":true,"size":22}},"encoding":{"x":{"field":"x","type":"quantitative","title":null,"scale":{"type":"log","reverse":true,"nice":false,"padding":13},"axis":{"values":[2000,1000,500,200,100,50]}},"y":{"field":"y","type":"quantitative","title":null,"scale":{"type":"log","nice":false,"padding":11},"axis":{"values":[1,100,10000,1000000]}},"color":{"field":"a","type":"nominal","title":null},"strokeDash":{"field":"a","type":"nominal","title":null},"strokeWidth":{"field":"a","type":"nominal","legend":null}}}
],
"config":{
"font":"Liberation Serif",
"view":{"fill":"#E5E5E5","stroke":null},
"axis":{"domain":false,"grid":true,"gridColor":"#C8C8C8","gridWidth":1.1,"tickColor":"#333333","tickSize":4,"labelFont":"Liberation Serif","labelFontSize":14,"labelColor":"#1A1A1A","labelPadding":2,"labelOverlap":false,"labelFlush":false,"labelExpr":"(round(datum.value/pow(10,floor(log(datum.value)/LN10+1e-6)))!=1) ? ''+round(datum.value/pow(10,floor(log(datum.value)/LN10+1e-6))) : (datum.value>=1000 ? '1e+'+round(log(datum.value)/LN10) : (datum.value>=0.01 ? ''+datum.value : '1e\u2212'+round(-log(datum.value)/LN10)))"},
"axisX":{"labelFontSize":{"condition":{"test":"round(datum.value/pow(10,floor(log(datum.value)/LN10+1e-6)))!=1","value":10},"value":14},"labelPadding":{"condition":{"test":"round(datum.value/pow(10,floor(log(datum.value)/LN10+1e-6)))!=1","value":-1},"value":7}},
"title":{"font":"Liberation Serif","fontSize":15,"fontWeight":"bold","color":"#000000","anchor":"middle","baseline":"middle"},
"legend":{"orient":"bottom","direction":"horizontal","labelFont":"Liberation Serif","labelFontSize":13,"labelColor":"#333333","symbolType":"M-1,0H1M-0.12,0A0.12,0.12 0 1,0 0.12,0A0.12,0.12 0 1,0 -0.12,0","symbolSize":729,"symbolStrokeWidth":2.5,"columnPadding":10,"labelOffset":6,"offset":13,"padding":0}
}
}
